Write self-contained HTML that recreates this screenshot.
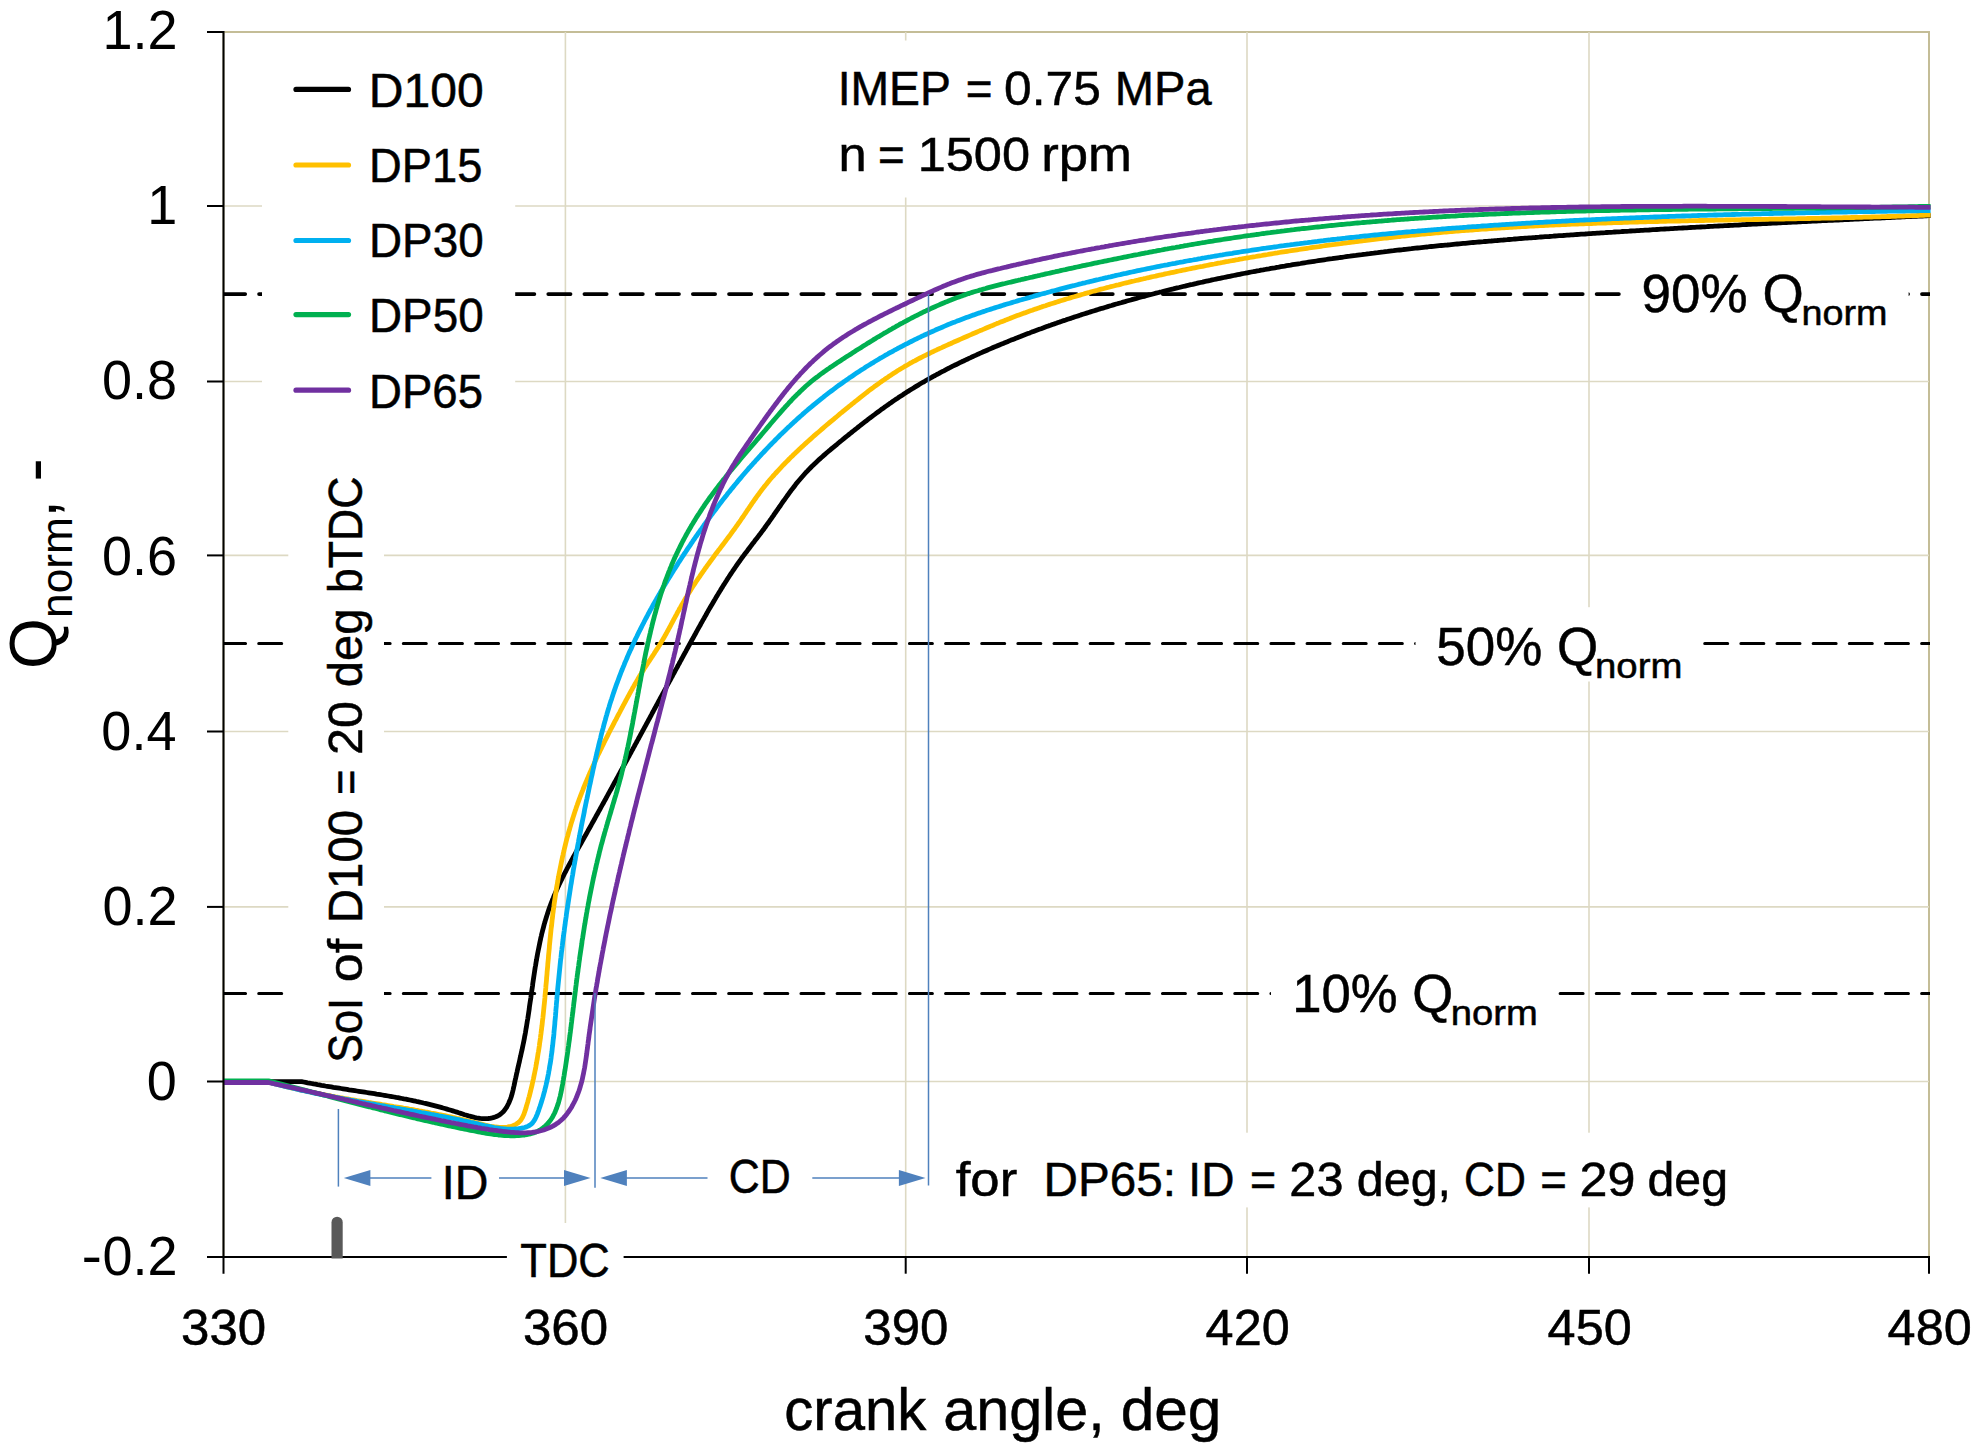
<!DOCTYPE html>
<html lang="en"><head><meta charset="utf-8"><title>Normalized heat release vs crank angle</title>
<style>html,body{margin:0;padding:0;background:#fff}svg{display:block}</style></head>
<body>
<svg width="1986" height="1449" viewBox="0 0 1986 1449" font-family="'Liberation Sans', Arial, sans-serif" fill="#000">
<rect x="0" y="0" width="1986" height="1449" fill="#fff"/>
<rect x="223.5" y="32.0" width="1705.5" height="1225.0" fill="none" stroke="#c4bd97" stroke-width="2"/>
<g stroke="#ddd9c3" stroke-width="1.6" fill="none">
<line x1="223.5" y1="206.0" x2="1929.0" y2="206.0"/>
<line x1="223.5" y1="381.5" x2="1929.0" y2="381.5"/>
<line x1="223.5" y1="555.4" x2="1929.0" y2="555.4"/>
<line x1="223.5" y1="731.5" x2="1929.0" y2="731.5"/>
<line x1="223.5" y1="906.9" x2="1929.0" y2="906.9"/>
<line x1="223.5" y1="1081.5" x2="1929.0" y2="1081.5"/>
<line x1="565.4" y1="32.0" x2="565.4" y2="1257.0"/>
<line x1="905.7" y1="32.0" x2="905.7" y2="1257.0"/>
<line x1="1247.0" y1="32.0" x2="1247.0" y2="1257.0"/>
<line x1="1589.0" y1="32.0" x2="1589.0" y2="1257.0"/>
</g>
<clipPath id="pc"><rect x="223.0" y="32.0" width="1707.0" height="1225.0"/></clipPath>
<g stroke="#000" stroke-linecap="round" fill="none" clip-path="url(#pc)">
<line x1="222.9" y1="294.05" x2="1960" y2="294.05" stroke-width="3.7" stroke-dasharray="22.3 13.85"/>
<line x1="222.55" y1="643.45" x2="1960" y2="643.45" stroke-width="3.0" stroke-dasharray="23 13.15"/>
<line x1="222.55" y1="993.45" x2="1960" y2="993.45" stroke-width="3.0" stroke-dasharray="23 13.15"/>
</g>
<g fill="none" stroke-width="4.8" stroke-linejoin="round" stroke-linecap="butt">
<path stroke="#000000" d="M223.5,1081.8 L301.6,1081.6 L303.6,1082.0 L305.6,1082.4 L307.6,1082.8 L309.5,1083.1 L311.5,1083.5 L313.5,1083.9 L315.5,1084.2 L317.5,1084.6 L319.4,1084.9 L321.4,1085.3 L323.4,1085.6 L325.4,1086.0 L327.3,1086.3 L329.3,1086.6 L331.3,1086.9 L333.3,1087.3 L335.2,1087.6 L337.2,1087.9 L339.2,1088.2 L341.1,1088.5 L343.1,1088.8 L345.1,1089.1 L347.0,1089.4 L349.0,1089.8 L351.0,1090.1 L352.9,1090.4 L354.9,1090.7 L356.9,1091.0 L358.8,1091.3 L360.8,1091.6 L362.8,1091.9 L364.7,1092.2 L366.7,1092.5 L368.7,1092.8 L370.6,1093.1 L372.6,1093.4 L374.5,1093.7 L376.5,1094.1 L378.5,1094.4 L380.4,1094.7 L382.4,1095.0 L384.3,1095.3 L386.3,1095.7 L388.3,1096.0 L390.2,1096.3 L392.2,1096.7 L394.1,1097.0 L396.1,1097.4 L398.0,1097.7 L400.0,1098.1 L402.0,1098.5 L403.9,1098.9 L405.9,1099.2 L407.8,1099.6 L409.8,1100.0 L411.7,1100.4 L413.7,1100.8 L415.7,1101.2 L417.6,1101.7 L419.6,1102.1 L421.5,1102.5 L423.5,1103.0 L425.4,1103.4 L427.4,1103.9 L429.4,1104.4 L431.3,1104.9 L433.3,1105.4 L435.2,1105.9 L437.2,1106.4 L439.1,1106.9 L441.1,1107.4 L443.1,1108.0 L445.0,1108.5 L447.0,1109.1 L448.9,1109.7 L450.9,1110.3 L452.8,1110.9 L454.8,1111.5 L456.8,1112.1 L458.7,1112.8 L460.7,1113.4 L462.6,1114.0 L464.6,1114.7 L466.6,1115.3 L468.5,1115.9 L470.5,1116.4 L472.4,1116.9 L474.4,1117.4 L476.4,1117.8 L478.3,1118.1 L480.3,1118.4 L482.3,1118.6 L484.3,1118.7 L486.2,1118.6 L488.2,1118.5 L490.2,1118.3 L492.1,1117.9 L494.0,1117.4 L495.8,1116.8 L497.6,1116.0 L499.2,1115.1 L500.7,1114.0 L502.1,1112.8 L503.5,1111.5 L504.7,1110.0 L505.8,1108.4 L506.9,1106.8 L507.8,1105.0 L508.7,1103.2 L509.5,1101.3 L510.3,1099.4 L511.0,1097.5 L511.6,1095.5 L512.2,1093.5 L512.7,1091.5 L513.2,1089.5 L513.6,1087.5 L514.1,1085.5 L514.5,1083.5 L514.9,1081.6 L515.3,1079.6 L515.8,1077.6 L516.2,1075.7 L516.6,1073.7 L517.1,1071.8 L517.5,1069.8 L517.9,1067.9 L518.4,1065.9 L518.8,1064.0 L519.3,1062.1 L519.7,1060.1 L520.1,1058.2 L520.6,1056.2 L521.0,1054.3 L521.4,1052.4 L521.9,1050.4 L522.3,1048.5 L522.7,1046.6 L523.1,1044.6 L523.5,1042.7 L523.9,1040.7 L524.3,1038.8 L524.6,1036.8 L525.0,1034.9 L525.4,1032.9 L525.7,1031.0 L526.0,1029.0 L526.4,1027.0 L526.7,1025.0 L527.0,1023.1 L527.3,1021.1 L527.7,1019.1 L528.0,1017.1 L528.3,1015.2 L528.6,1013.2 L528.9,1011.2 L529.2,1009.2 L529.4,1007.2 L529.7,1005.2 L530.0,1003.2 L530.3,1001.2 L530.6,999.3 L530.9,997.3 L531.1,995.3 L531.4,993.3 L531.7,991.3 L532.0,989.3 L532.3,987.3 L532.6,985.3 L532.8,983.3 L533.1,981.3 L533.4,979.3 L533.7,977.3 L534.0,975.4 L534.3,973.4 L534.6,971.4 L534.9,969.4 L535.2,967.4 L535.6,965.4 L535.9,963.4 L536.2,961.5 L536.6,959.5 L536.9,957.5 L537.3,955.5 L537.6,953.6 L538.0,951.6 L538.4,949.6 L538.8,947.7 L539.2,945.7 L539.6,943.8 L540.0,941.8 L540.4,939.9 L540.8,937.9 L541.3,936.0 L541.7,934.0 L542.2,932.1 L542.7,930.2 L543.2,928.3 L543.7,926.3 L544.2,924.4 L544.8,922.5 L545.3,920.6 L545.9,918.7 L546.5,916.8 L547.1,914.9 L547.7,913.0 L548.3,911.1 L548.9,909.3 L549.6,907.4 L550.3,905.5 L551.0,903.7 L551.7,901.8 L552.4,900.0 L553.2,898.1 L553.9,896.3 L554.7,894.5 L555.5,892.6 L556.3,890.8 L557.1,889.0 L557.9,887.2 L558.8,885.4 L559.6,883.6 L560.5,881.8 L561.4,880.0 L562.2,878.2 L563.1,876.4 L564.0,874.6 L564.9,872.8 L565.9,871.0 L566.8,869.2 L567.7,867.5 L568.7,865.7 L569.6,863.9 L570.6,862.2 L571.5,860.4 L572.5,858.6 L573.4,856.9 L574.4,855.1 L575.4,853.3 L576.4,851.6 L577.3,849.8 L578.3,848.1 L579.3,846.3 L580.3,844.6 L581.3,842.8 L582.2,841.1 L583.2,839.3 L584.2,837.5 L585.2,835.8 L586.2,834.0 L587.2,832.3 L588.1,830.5 L589.1,828.8 L590.1,827.0 L591.1,825.3 L592.0,823.5 L593.0,821.8 L594.0,820.0 L595.0,818.3 L595.9,816.5 L596.9,814.7 L597.9,813.0 L598.8,811.2 L599.8,809.5 L600.8,807.7 L601.7,806.0 L602.7,804.2 L603.7,802.5 L604.6,800.7 L605.6,799.0 L606.6,797.2 L607.5,795.5 L608.5,793.7 L609.4,792.0 L610.4,790.2 L611.4,788.5 L612.3,786.7 L613.3,784.9 L614.2,783.2 L615.2,781.4 L616.2,779.7 L617.1,777.9 L618.1,776.2 L619.0,774.4 L620.0,772.7 L620.9,770.9 L621.9,769.2 L622.8,767.4 L623.8,765.7 L624.8,763.9 L625.7,762.2 L626.7,760.4 L627.6,758.6 L628.6,756.9 L629.5,755.1 L630.5,753.4 L631.4,751.6 L632.4,749.9 L633.3,748.1 L634.3,746.4 L635.2,744.6 L636.2,742.9 L637.1,741.1 L638.1,739.4 L639.0,737.6 L640.0,735.8 L640.9,734.1 L641.9,732.3 L642.8,730.6 L643.8,728.8 L644.7,727.1 L645.7,725.3 L646.6,723.6 L647.6,721.8 L648.5,720.1 L649.5,718.3 L650.4,716.6 L651.4,714.8 L652.3,713.0 L653.3,711.3 L654.2,709.5 L655.2,707.8 L656.1,706.0 L657.1,704.3 L658.0,702.5 L659.0,700.8 L659.9,699.0 L660.9,697.2 L661.8,695.5 L662.8,693.7 L663.7,692.0 L664.7,690.2 L665.6,688.5 L666.6,686.7 L667.5,685.0 L668.5,683.2 L669.4,681.4 L670.4,679.7 L671.3,677.9 L672.3,676.2 L673.2,674.4 L674.2,672.7 L675.1,670.9 L676.1,669.1 L677.1,667.4 L678.0,665.6 L679.0,663.9 L679.9,662.1 L680.9,660.4 L681.8,658.6 L682.8,656.8 L683.7,655.1 L684.7,653.3 L685.7,651.6 L686.6,649.8 L687.6,648.0 L688.5,646.3 L689.5,644.5 L690.5,642.8 L691.4,641.0 L692.4,639.2 L693.4,637.5 L694.3,635.7 L695.3,634.0 L696.3,632.2 L697.2,630.5 L698.2,628.7 L699.2,626.9 L700.2,625.2 L701.1,623.4 L702.1,621.7 L703.1,619.9 L704.1,618.2 L705.1,616.4 L706.1,614.7 L707.0,612.9 L708.0,611.2 L709.0,609.4 L710.0,607.7 L711.0,606.0 L712.1,604.2 L713.1,602.5 L714.1,600.8 L715.1,599.1 L716.1,597.3 L717.2,595.6 L718.2,593.9 L719.2,592.2 L720.3,590.5 L721.3,588.8 L722.4,587.1 L723.4,585.4 L724.5,583.7 L725.6,582.0 L726.7,580.3 L727.7,578.6 L728.8,577.0 L729.9,575.3 L731.0,573.6 L732.1,572.0 L733.2,570.3 L734.4,568.6 L735.5,567.0 L736.6,565.4 L737.8,563.7 L738.9,562.1 L740.1,560.5 L741.2,558.9 L742.4,557.2 L743.6,555.6 L744.8,554.0 L746.0,552.4 L747.2,550.9 L748.4,549.3 L749.6,547.7 L750.8,546.1 L752.0,544.5 L753.2,542.9 L754.4,541.4 L755.6,539.8 L756.9,538.2 L758.1,536.6 L759.3,535.0 L760.5,533.5 L761.7,531.9 L762.9,530.3 L764.1,528.7 L765.3,527.0 L766.4,525.4 L767.6,523.8 L768.8,522.2 L769.9,520.5 L771.1,518.9 L772.2,517.2 L773.4,515.6 L774.5,513.9 L775.7,512.3 L776.8,510.6 L778.0,509.0 L779.1,507.3 L780.3,505.7 L781.4,504.0 L782.5,502.4 L783.7,500.7 L784.9,499.1 L786.0,497.5 L787.2,495.8 L788.4,494.2 L789.5,492.6 L790.7,491.0 L791.9,489.4 L793.2,487.8 L794.4,486.2 L795.6,484.6 L796.8,483.1 L798.1,481.5 L799.4,480.0 L800.7,478.5 L802.0,477.0 L803.3,475.5 L804.6,474.0 L805.9,472.5 L807.3,471.1 L808.7,469.6 L810.1,468.2 L811.5,466.8 L812.9,465.4 L814.4,464.0 L815.8,462.7 L817.3,461.3 L818.7,459.9 L820.2,458.6 L821.7,457.3 L823.2,455.9 L824.7,454.6 L826.2,453.3 L827.7,452.0 L829.3,450.7 L830.8,449.4 L832.3,448.1 L833.9,446.8 L835.4,445.6 L837.0,444.3 L838.5,443.0 L840.1,441.7 L841.6,440.5 L843.2,439.2 L844.7,437.9 L846.3,436.6 L847.9,435.4 L849.4,434.1 L851.0,432.9 L852.5,431.6 L854.1,430.4 L855.7,429.1 L857.3,427.9 L858.8,426.6 L860.4,425.4 L862.0,424.1 L863.6,422.9 L865.2,421.7 L866.8,420.5 L868.4,419.2 L869.9,418.0 L871.5,416.8 L873.1,415.6 L874.8,414.4 L876.4,413.2 L878.0,412.0 L879.6,410.8 L881.2,409.6 L882.8,408.5 L884.4,407.3 L886.1,406.1 L887.7,405.0 L889.3,403.8 L891.0,402.7 L892.6,401.6 L894.3,400.4 L895.9,399.3 L897.6,398.2 L899.2,397.1 L900.9,396.0 L902.6,394.9 L904.2,393.8 L905.9,392.7 L907.6,391.6 L909.3,390.6 L911.0,389.5 L912.7,388.5 L914.4,387.4 L916.1,386.4 L917.8,385.4 L919.5,384.3 L921.2,383.3 L922.9,382.3 L924.7,381.3 L926.4,380.3 L928.1,379.3 L929.8,378.4 L931.6,377.4 L933.3,376.4 L935.1,375.5 L936.8,374.5 L938.6,373.6 L940.3,372.6 L942.1,371.7 L943.9,370.8 L945.6,369.9 L947.4,368.9 L949.2,368.0 L950.9,367.1 L952.7,366.2 L954.5,365.3 L956.3,364.5 L958.1,363.6 L959.9,362.7 L961.7,361.8 L963.5,361.0 L965.3,360.1 L967.1,359.3 L968.9,358.4 L970.7,357.6 L972.5,356.7 L974.3,355.9 L976.1,355.1 L978.0,354.2 L979.8,353.4 L981.6,352.6 L983.4,351.8 L985.3,351.0 L987.1,350.2 L988.9,349.4 L990.8,348.6 L992.6,347.8 L994.4,347.0 L996.3,346.3 L998.1,345.5 L1000.0,344.7 L1001.8,343.9 L1003.7,343.2 L1005.5,342.4 L1007.4,341.7 L1009.2,340.9 L1011.1,340.1 L1013.0,339.4 L1014.8,338.7 L1016.7,337.9 L1018.6,337.2 L1020.4,336.5 L1022.3,335.7 L1024.2,335.0 L1026.0,334.3 L1027.9,333.6 L1029.8,332.9 L1031.7,332.1 L1033.5,331.4 L1035.4,330.7 L1037.3,330.0 L1039.2,329.3 L1041.1,328.7 L1043.0,328.0 L1044.8,327.3 L1046.7,326.6 L1048.6,325.9 L1050.5,325.3 L1052.4,324.6 L1054.3,323.9 L1056.2,323.3 L1058.1,322.6 L1060.0,321.9 L1061.9,321.3 L1063.8,320.6 L1065.7,320.0 L1067.6,319.3 L1069.5,318.7 L1071.4,318.1 L1073.3,317.4 L1075.2,316.8 L1077.1,316.2 L1079.0,315.6 L1080.9,314.9 L1082.8,314.3 L1084.7,313.7 L1086.6,313.1 L1088.6,312.5 L1090.5,311.9 L1092.4,311.3 L1094.3,310.7 L1096.2,310.1 L1098.1,309.5 L1100.0,308.9 L1101.9,308.3 L1103.9,307.8 L1105.8,307.2 L1107.7,306.6 L1109.6,306.0 L1111.5,305.5 L1113.5,304.9 L1115.4,304.3 L1117.3,303.8 L1119.2,303.2 L1121.1,302.7 L1123.1,302.1 L1125.0,301.6 L1126.9,301.0 L1128.8,300.5 L1130.8,300.0 L1132.7,299.4 L1134.6,298.9 L1136.5,298.4 L1138.5,297.8 L1140.4,297.3 L1142.3,296.8 L1144.3,296.3 L1146.2,295.8 L1148.1,295.2 L1150.1,294.7 L1152.0,294.2 L1153.9,293.7 L1155.9,293.2 L1157.8,292.7 L1159.7,292.2 L1161.7,291.8 L1163.6,291.3 L1165.5,290.8 L1167.5,290.3 L1169.4,289.8 L1171.4,289.3 L1173.3,288.9 L1175.2,288.4 L1177.2,287.9 L1179.1,287.5 L1181.1,287.0 L1183.0,286.5 L1184.9,286.1 L1186.9,285.6 L1188.8,285.2 L1190.8,284.7 L1192.7,284.3 L1194.7,283.8 L1196.6,283.4 L1198.6,282.9 L1200.5,282.5 L1202.5,282.1 L1204.4,281.6 L1206.4,281.2 L1208.3,280.8 L1210.3,280.4 L1212.2,279.9 L1214.2,279.5 L1216.1,279.1 L1218.1,278.7 L1220.0,278.3 L1222.0,277.9 L1223.9,277.5 L1225.9,277.1 L1227.8,276.7 L1229.8,276.3 L1231.7,275.9 L1233.7,275.5 L1235.7,275.1 L1237.6,274.7 L1239.6,274.3 L1241.5,273.9 L1243.5,273.5 L1245.5,273.2 L1247.4,272.8 L1249.4,272.4 L1251.3,272.0 L1253.3,271.7 L1255.3,271.3 L1257.2,270.9 L1259.2,270.6 L1261.1,270.2 L1263.1,269.9 L1265.1,269.5 L1267.0,269.1 L1269.0,268.8 L1271.0,268.4 L1272.9,268.1 L1274.9,267.8 L1276.9,267.4 L1278.8,267.1 L1280.8,266.7 L1282.8,266.4 L1284.7,266.1 L1286.7,265.7 L1288.7,265.4 L1290.6,265.1 L1292.6,264.7 L1294.6,264.4 L1296.6,264.1 L1298.5,263.8 L1300.5,263.5 L1302.5,263.1 L1304.4,262.8 L1306.4,262.5 L1308.4,262.2 L1310.4,261.9 L1312.3,261.6 L1314.3,261.3 L1316.3,261.0 L1318.3,260.7 L1320.2,260.4 L1322.2,260.1 L1324.2,259.8 L1326.2,259.5 L1328.1,259.2 L1330.1,258.9 L1332.1,258.7 L1334.1,258.4 L1336.1,258.1 L1338.0,257.8 L1340.0,257.5 L1342.0,257.3 L1344.0,257.0 L1346.0,256.7 L1347.9,256.4 L1349.9,256.2 L1351.9,255.9 L1353.9,255.6 L1355.9,255.4 L1357.8,255.1 L1359.8,254.8 L1361.8,254.6 L1363.8,254.3 L1365.8,254.1 L1367.7,253.8 L1369.7,253.6 L1371.7,253.3 L1373.7,253.1 L1375.7,252.8 L1377.7,252.6 L1379.7,252.3 L1381.6,252.1 L1383.6,251.9 L1385.6,251.6 L1387.6,251.4 L1389.6,251.1 L1391.6,250.9 L1393.6,250.7 L1395.5,250.4 L1397.5,250.2 L1399.5,250.0 L1401.5,249.8 L1403.5,249.5 L1405.5,249.3 L1407.5,249.1 L1409.5,248.9 L1411.4,248.7 L1413.4,248.4 L1415.4,248.2 L1417.4,248.0 L1419.4,247.8 L1421.4,247.6 L1423.4,247.4 L1425.4,247.2 L1427.4,247.0 L1429.4,246.7 L1431.3,246.5 L1433.3,246.3 L1435.3,246.1 L1437.3,245.9 L1439.3,245.7 L1441.3,245.5 L1443.3,245.3 L1445.3,245.1 L1447.3,245.0 L1449.3,244.8 L1451.3,244.6 L1453.3,244.4 L1455.3,244.2 L1457.2,244.0 L1459.2,243.8 L1461.2,243.6 L1463.2,243.4 L1465.2,243.3 L1467.2,243.1 L1469.2,242.9 L1471.2,242.7 L1473.2,242.5 L1475.2,242.4 L1477.2,242.2 L1479.2,242.0 L1481.2,241.8 L1483.2,241.7 L1485.2,241.5 L1487.2,241.3 L1489.2,241.1 L1491.2,241.0 L1493.1,240.8 L1495.1,240.6 L1497.1,240.5 L1499.1,240.3 L1501.1,240.1 L1503.1,240.0 L1505.1,239.8 L1507.1,239.7 L1509.1,239.5 L1511.1,239.3 L1513.1,239.2 L1515.1,239.0 L1517.1,238.9 L1519.1,238.7 L1521.1,238.5 L1523.1,238.4 L1525.1,238.2 L1527.1,238.1 L1529.1,237.9 L1531.1,237.8 L1533.1,237.6 L1535.1,237.5 L1537.1,237.3 L1539.1,237.2 L1541.1,237.0 L1543.1,236.9 L1545.1,236.7 L1547.1,236.6 L1549.1,236.5 L1551.0,236.3 L1553.0,236.2 L1555.0,236.0 L1557.0,235.9 L1559.0,235.7 L1561.0,235.6 L1563.0,235.5 L1565.0,235.3 L1567.0,235.2 L1569.0,235.1 L1571.0,234.9 L1573.0,234.8 L1575.0,234.6 L1577.0,234.5 L1579.0,234.4 L1581.0,234.2 L1583.0,234.1 L1585.0,234.0 L1587.0,233.8 L1589.0,233.7 L1591.0,233.6 L1593.0,233.4 L1595.0,233.3 L1597.0,233.2 L1599.0,233.1 L1601.0,232.9 L1603.0,232.8 L1605.0,232.7 L1607.0,232.5 L1609.0,232.4 L1611.0,232.3 L1612.9,232.2 L1614.9,232.0 L1616.9,231.9 L1618.9,231.8 L1620.9,231.7 L1622.9,231.5 L1624.9,231.4 L1626.9,231.3 L1628.9,231.2 L1630.9,231.0 L1632.9,230.9 L1634.9,230.8 L1636.9,230.7 L1638.9,230.6 L1640.9,230.4 L1642.9,230.3 L1644.9,230.2 L1646.9,230.1 L1648.9,230.0 L1650.9,229.8 L1652.9,229.7 L1654.9,229.6 L1656.9,229.5 L1658.9,229.4 L1660.9,229.2 L1662.8,229.1 L1664.8,229.0 L1666.8,228.9 L1668.8,228.8 L1670.8,228.7 L1672.8,228.6 L1674.8,228.4 L1676.8,228.3 L1678.8,228.2 L1680.8,228.1 L1682.8,228.0 L1684.8,227.9 L1686.8,227.8 L1688.8,227.6 L1690.8,227.5 L1692.8,227.4 L1694.8,227.3 L1696.8,227.2 L1698.8,227.1 L1700.8,227.0 L1702.8,226.9 L1704.8,226.8 L1706.7,226.7 L1708.7,226.5 L1710.7,226.4 L1712.7,226.3 L1714.7,226.2 L1716.7,226.1 L1718.7,226.0 L1720.7,225.9 L1722.7,225.8 L1724.7,225.7 L1726.7,225.6 L1728.7,225.5 L1730.7,225.4 L1732.7,225.3 L1734.7,225.2 L1736.7,225.1 L1738.7,225.0 L1740.7,224.8 L1742.7,224.7 L1744.7,224.6 L1746.7,224.5 L1748.7,224.4 L1750.6,224.3 L1752.6,224.2 L1754.6,224.1 L1756.6,224.0 L1758.6,223.9 L1760.6,223.8 L1762.6,223.7 L1764.6,223.6 L1766.6,223.5 L1768.6,223.4 L1770.6,223.3 L1772.6,223.2 L1774.6,223.1 L1776.6,223.0 L1778.6,222.9 L1780.6,222.8 L1782.6,222.7 L1784.6,222.6 L1786.6,222.5 L1788.6,222.4 L1790.6,222.3 L1792.6,222.2 L1794.6,222.1 L1796.6,222.0 L1798.5,221.9 L1800.5,221.8 L1802.5,221.7 L1804.5,221.6 L1806.5,221.5 L1808.5,221.4 L1810.5,221.3 L1812.5,221.2 L1814.5,221.1 L1816.5,221.0 L1818.5,220.9 L1820.5,220.8 L1822.5,220.7 L1824.5,220.6 L1826.5,220.5 L1828.5,220.4 L1830.5,220.4 L1832.5,220.3 L1834.5,220.2 L1836.5,220.1 L1838.5,220.0 L1840.5,219.9 L1842.5,219.8 L1844.5,219.7 L1846.5,219.6 L1848.5,219.5 L1850.5,219.4 L1852.5,219.3 L1854.5,219.2 L1856.5,219.1 L1858.5,219.0 L1860.5,218.9 L1862.5,218.8 L1864.5,218.7 L1866.5,218.6 L1868.5,218.5 L1870.4,218.4 L1872.4,218.3 L1874.4,218.2 L1876.4,218.2 L1878.4,218.1 L1880.4,218.0 L1882.4,217.9 L1884.4,217.8 L1886.4,217.7 L1888.4,217.6 L1890.4,217.5 L1892.4,217.4 L1894.4,217.3 L1896.4,217.2 L1898.4,217.1 L1900.4,217.0 L1902.4,216.9 L1904.4,216.8 L1906.4,216.7 L1908.4,216.6 L1910.4,216.5 L1912.4,216.4 L1914.4,216.3 L1916.4,216.3 L1918.4,216.2 L1920.4,216.1 L1922.4,216.0 L1924.4,215.9 L1926.4,215.8 L1928.4,215.7 L1930.4,215.6 L1930.6,215.6"/>
<path stroke="#ffc000" d="M223.5,1082.0 L268.5,1082.0 L270.5,1082.5 L272.5,1083.1 L274.5,1083.6 L276.5,1084.1 L278.5,1084.7 L280.5,1085.2 L282.5,1085.7 L284.4,1086.2 L286.4,1086.6 L288.4,1087.1 L290.4,1087.6 L292.4,1088.1 L294.3,1088.5 L296.3,1089.0 L298.3,1089.4 L300.2,1089.8 L302.2,1090.3 L304.2,1090.7 L306.1,1091.1 L308.1,1091.5 L310.0,1091.9 L312.0,1092.3 L314.0,1092.7 L315.9,1093.1 L317.9,1093.5 L319.8,1093.9 L321.8,1094.3 L323.7,1094.6 L325.7,1095.0 L327.6,1095.4 L329.6,1095.7 L331.5,1096.1 L333.5,1096.4 L335.4,1096.8 L337.4,1097.1 L339.3,1097.5 L341.2,1097.8 L343.2,1098.2 L345.1,1098.5 L347.1,1098.8 L349.0,1099.2 L351.0,1099.5 L352.9,1099.8 L354.8,1100.1 L356.8,1100.5 L358.7,1100.8 L360.7,1101.1 L362.6,1101.4 L364.5,1101.7 L366.5,1102.0 L368.4,1102.4 L370.4,1102.7 L372.3,1103.0 L374.2,1103.3 L376.2,1103.6 L378.1,1103.9 L380.1,1104.2 L382.0,1104.6 L384.0,1104.9 L385.9,1105.2 L387.8,1105.5 L389.8,1105.8 L391.7,1106.1 L393.7,1106.5 L395.6,1106.8 L397.6,1107.1 L399.5,1107.4 L401.5,1107.7 L403.4,1108.1 L405.4,1108.4 L407.4,1108.7 L409.3,1109.1 L411.3,1109.4 L413.2,1109.7 L415.2,1110.1 L417.2,1110.4 L419.1,1110.8 L421.1,1111.1 L423.1,1111.5 L425.0,1111.9 L427.0,1112.2 L429.0,1112.6 L431.0,1113.0 L432.9,1113.3 L434.9,1113.7 L436.9,1114.1 L438.9,1114.5 L440.9,1114.9 L442.9,1115.3 L444.9,1115.7 L446.9,1116.1 L448.8,1116.5 L450.8,1116.9 L452.9,1117.4 L454.9,1117.8 L456.9,1118.3 L458.9,1118.7 L460.9,1119.2 L462.9,1119.6 L464.9,1120.1 L467.0,1120.6 L469.0,1121.0 L471.0,1121.5 L473.0,1122.0 L475.1,1122.5 L477.1,1123.1 L479.2,1123.6 L481.2,1124.1 L483.2,1124.6 L485.3,1125.1 L487.3,1125.5 L489.4,1126.0 L491.4,1126.4 L493.4,1126.7 L495.4,1127.0 L497.4,1127.2 L499.4,1127.4 L501.4,1127.4 L503.4,1127.4 L505.3,1127.3 L507.3,1127.1 L509.2,1126.7 L511.1,1126.3 L512.9,1125.7 L514.6,1125.0 L516.3,1124.1 L517.8,1123.1 L519.2,1121.9 L520.4,1120.6 L521.4,1119.1 L522.4,1117.5 L523.2,1115.8 L524.0,1114.0 L524.6,1112.1 L525.3,1110.2 L525.9,1108.3 L526.4,1106.3 L527.0,1104.4 L527.6,1102.4 L528.1,1100.5 L528.6,1098.5 L529.2,1096.6 L529.7,1094.6 L530.2,1092.7 L530.7,1090.7 L531.1,1088.8 L531.6,1086.8 L532.1,1084.9 L532.5,1082.9 L532.9,1081.0 L533.4,1079.0 L533.8,1077.0 L534.2,1075.1 L534.6,1073.1 L535.0,1071.1 L535.4,1069.2 L535.8,1067.2 L536.1,1065.2 L536.5,1063.3 L536.8,1061.3 L537.2,1059.3 L537.5,1057.4 L537.8,1055.4 L538.1,1053.4 L538.5,1051.4 L538.8,1049.5 L539.1,1047.5 L539.4,1045.5 L539.6,1043.5 L539.9,1041.6 L540.2,1039.6 L540.5,1037.6 L540.7,1035.6 L541.0,1033.6 L541.2,1031.7 L541.5,1029.7 L541.7,1027.7 L542.0,1025.7 L542.2,1023.7 L542.4,1021.7 L542.6,1019.8 L542.9,1017.8 L543.1,1015.8 L543.3,1013.8 L543.5,1011.8 L543.7,1009.8 L543.9,1007.8 L544.1,1005.8 L544.3,1003.9 L544.5,1001.9 L544.7,999.9 L544.9,997.9 L545.0,995.9 L545.2,993.9 L545.4,991.9 L545.6,989.9 L545.8,987.9 L545.9,985.9 L546.1,983.9 L546.3,982.0 L546.5,980.0 L546.6,978.0 L546.8,976.0 L547.0,974.0 L547.1,972.0 L547.3,970.0 L547.5,968.0 L547.7,966.0 L547.8,964.0 L548.0,962.0 L548.2,960.0 L548.4,958.0 L548.5,956.0 L548.7,954.0 L548.9,952.1 L549.1,950.1 L549.3,948.1 L549.4,946.1 L549.6,944.1 L549.8,942.1 L550.0,940.1 L550.2,938.1 L550.4,936.1 L550.6,934.1 L550.8,932.1 L551.0,930.1 L551.2,928.1 L551.5,926.2 L551.7,924.2 L551.9,922.2 L552.1,920.2 L552.4,918.2 L552.6,916.2 L552.8,914.2 L553.1,912.2 L553.3,910.2 L553.6,908.3 L553.9,906.3 L554.1,904.3 L554.4,902.3 L554.7,900.3 L555.0,898.3 L555.3,896.3 L555.6,894.4 L555.9,892.4 L556.2,890.4 L556.5,888.4 L556.8,886.4 L557.2,884.5 L557.5,882.5 L557.9,880.5 L558.2,878.5 L558.6,876.6 L558.9,874.6 L559.3,872.6 L559.7,870.7 L560.1,868.7 L560.5,866.7 L560.9,864.8 L561.3,862.8 L561.7,860.8 L562.1,858.9 L562.5,856.9 L563.0,855.0 L563.4,853.0 L563.9,851.1 L564.3,849.1 L564.8,847.2 L565.3,845.2 L565.7,843.3 L566.2,841.4 L566.7,839.4 L567.2,837.5 L567.8,835.6 L568.3,833.6 L568.8,831.7 L569.4,829.8 L569.9,827.9 L570.5,825.9 L571.0,824.0 L571.6,822.1 L572.2,820.2 L572.8,818.3 L573.4,816.4 L574.0,814.5 L574.6,812.6 L575.2,810.7 L575.9,808.8 L576.5,806.9 L577.2,805.0 L577.8,803.2 L578.5,801.3 L579.2,799.4 L579.9,797.5 L580.6,795.7 L581.3,793.8 L582.0,792.0 L582.8,790.1 L583.5,788.2 L584.2,786.4 L585.0,784.5 L585.7,782.7 L586.5,780.9 L587.3,779.0 L588.1,777.2 L588.9,775.3 L589.6,773.5 L590.4,771.7 L591.3,769.9 L592.1,768.0 L592.9,766.2 L593.7,764.4 L594.5,762.6 L595.4,760.8 L596.2,759.0 L597.1,757.1 L597.9,755.3 L598.8,753.5 L599.7,751.7 L600.5,749.9 L601.4,748.1 L602.3,746.3 L603.2,744.5 L604.0,742.7 L604.9,740.9 L605.8,739.2 L606.7,737.4 L607.6,735.6 L608.5,733.8 L609.4,732.0 L610.3,730.2 L611.3,728.4 L612.2,726.7 L613.1,724.9 L614.0,723.1 L614.9,721.3 L615.9,719.6 L616.8,717.8 L617.7,716.0 L618.7,714.2 L619.6,712.5 L620.5,710.7 L621.5,708.9 L622.4,707.2 L623.3,705.4 L624.3,703.6 L625.2,701.9 L626.1,700.1 L627.1,698.3 L628.0,696.6 L629.0,694.8 L629.9,693.1 L630.9,691.3 L631.9,689.6 L632.8,687.8 L633.8,686.1 L634.8,684.3 L635.8,682.6 L636.8,680.9 L637.8,679.2 L638.8,677.4 L639.8,675.7 L640.9,674.0 L641.9,672.3 L643.0,670.7 L644.0,669.0 L645.1,667.3 L646.2,665.6 L647.3,664.0 L648.4,662.3 L649.5,660.6 L650.6,659.0 L651.7,657.3 L652.8,655.6 L653.9,654.0 L654.9,652.3 L656.0,650.6 L657.1,648.9 L658.2,647.3 L659.2,645.6 L660.3,643.9 L661.3,642.2 L662.3,640.4 L663.3,638.7 L664.3,637.0 L665.3,635.2 L666.3,633.5 L667.2,631.7 L668.2,630.0 L669.1,628.2 L670.1,626.5 L671.0,624.7 L672.0,622.9 L672.9,621.2 L673.8,619.4 L674.8,617.6 L675.7,615.9 L676.7,614.1 L677.6,612.3 L678.6,610.6 L679.5,608.8 L680.5,607.1 L681.5,605.3 L682.5,603.6 L683.5,601.9 L684.5,600.1 L685.5,598.4 L686.6,596.7 L687.6,595.0 L688.6,593.3 L689.7,591.6 L690.8,589.9 L691.8,588.2 L692.9,586.5 L694.0,584.9 L695.1,583.2 L696.2,581.5 L697.3,579.9 L698.5,578.2 L699.6,576.6 L700.7,574.9 L701.9,573.3 L703.0,571.6 L704.2,570.0 L705.3,568.3 L706.5,566.7 L707.6,565.1 L708.8,563.5 L710.0,561.8 L711.2,560.2 L712.4,558.6 L713.6,557.0 L714.7,555.4 L715.9,553.8 L717.1,552.2 L718.3,550.6 L719.6,549.0 L720.8,547.4 L722.0,545.8 L723.2,544.2 L724.4,542.6 L725.6,541.0 L726.8,539.4 L728.0,537.8 L729.2,536.2 L730.4,534.6 L731.5,533.0 L732.7,531.4 L733.9,529.8 L735.1,528.1 L736.2,526.5 L737.4,524.9 L738.5,523.2 L739.7,521.6 L740.8,520.0 L741.9,518.3 L743.1,516.7 L744.2,515.0 L745.3,513.4 L746.4,511.7 L747.5,510.0 L748.7,508.4 L749.8,506.7 L750.9,505.1 L752.0,503.4 L753.2,501.8 L754.3,500.2 L755.5,498.5 L756.6,496.9 L757.8,495.3 L759.0,493.7 L760.1,492.1 L761.3,490.5 L762.5,488.9 L763.8,487.3 L765.0,485.7 L766.3,484.2 L767.5,482.6 L768.8,481.1 L770.1,479.5 L771.4,478.0 L772.7,476.5 L774.1,475.0 L775.4,473.5 L776.8,472.0 L778.1,470.6 L779.5,469.1 L780.9,467.6 L782.2,466.2 L783.6,464.7 L785.0,463.3 L786.4,461.9 L787.8,460.5 L789.2,459.0 L790.6,457.6 L792.1,456.2 L793.5,454.8 L794.9,453.5 L796.4,452.1 L797.8,450.7 L799.3,449.3 L800.7,448.0 L802.2,446.6 L803.7,445.3 L805.1,443.9 L806.6,442.6 L808.1,441.2 L809.6,439.9 L811.1,438.6 L812.5,437.2 L814.0,435.9 L815.5,434.6 L817.0,433.3 L818.6,432.0 L820.1,430.7 L821.6,429.4 L823.1,428.1 L824.6,426.8 L826.1,425.5 L827.7,424.2 L829.2,422.9 L830.7,421.6 L832.3,420.3 L833.8,419.1 L835.3,417.8 L836.9,416.5 L838.4,415.2 L839.9,413.9 L841.5,412.7 L843.0,411.4 L844.6,410.1 L846.1,408.9 L847.7,407.6 L849.2,406.3 L850.8,405.1 L852.3,403.8 L853.9,402.6 L855.4,401.3 L857.0,400.1 L858.6,398.8 L860.1,397.6 L861.7,396.3 L863.3,395.1 L864.9,393.9 L866.5,392.7 L868.0,391.4 L869.6,390.2 L871.2,389.0 L872.8,387.8 L874.4,386.6 L876.0,385.5 L877.7,384.3 L879.3,383.1 L880.9,381.9 L882.5,380.8 L884.2,379.7 L885.8,378.5 L887.5,377.4 L889.1,376.3 L890.8,375.2 L892.5,374.1 L894.1,373.0 L895.8,371.9 L897.5,370.8 L899.2,369.8 L900.9,368.7 L902.6,367.7 L904.3,366.7 L906.1,365.7 L907.8,364.7 L909.5,363.7 L911.3,362.7 L913.0,361.7 L914.8,360.8 L916.6,359.8 L918.3,358.9 L920.1,358.0 L921.9,357.1 L923.7,356.2 L925.5,355.3 L927.3,354.4 L929.1,353.5 L930.9,352.6 L932.7,351.8 L934.5,350.9 L936.3,350.1 L938.1,349.2 L939.9,348.4 L941.8,347.6 L943.6,346.7 L945.4,345.9 L947.2,345.1 L949.0,344.3 L950.9,343.5 L952.7,342.6 L954.5,341.8 L956.4,341.0 L958.2,340.2 L960.0,339.4 L961.8,338.6 L963.7,337.8 L965.5,337.0 L967.3,336.2 L969.2,335.4 L971.0,334.6 L972.8,333.8 L974.7,333.0 L976.5,332.2 L978.4,331.4 L980.2,330.6 L982.0,329.9 L983.9,329.1 L985.7,328.3 L987.5,327.5 L989.4,326.7 L991.2,325.9 L993.1,325.2 L994.9,324.4 L996.8,323.6 L998.6,322.9 L1000.5,322.1 L1002.3,321.4 L1004.2,320.7 L1006.0,319.9 L1007.9,319.2 L1009.8,318.5 L1011.6,317.7 L1013.5,317.0 L1015.4,316.3 L1017.2,315.6 L1019.1,314.9 L1021.0,314.2 L1022.9,313.5 L1024.7,312.9 L1026.6,312.2 L1028.5,311.5 L1030.4,310.8 L1032.3,310.2 L1034.1,309.5 L1036.0,308.9 L1037.9,308.2 L1039.8,307.6 L1041.7,306.9 L1043.6,306.3 L1045.5,305.7 L1047.4,305.0 L1049.3,304.4 L1051.2,303.8 L1053.1,303.2 L1055.0,302.6 L1056.9,302.0 L1058.8,301.4 L1060.7,300.8 L1062.6,300.2 L1064.5,299.6 L1066.4,299.0 L1068.4,298.5 L1070.3,297.9 L1072.2,297.3 L1074.1,296.8 L1076.0,296.2 L1077.9,295.6 L1079.9,295.1 L1081.8,294.5 L1083.7,294.0 L1085.6,293.4 L1087.6,292.9 L1089.5,292.4 L1091.4,291.8 L1093.3,291.3 L1095.3,290.8 L1097.2,290.3 L1099.1,289.7 L1101.1,289.2 L1103.0,288.7 L1104.9,288.2 L1106.9,287.7 L1108.8,287.2 L1110.8,286.7 L1112.7,286.2 L1114.6,285.7 L1116.6,285.2 L1118.5,284.8 L1120.5,284.3 L1122.4,283.8 L1124.3,283.3 L1126.3,282.8 L1128.2,282.4 L1130.2,281.9 L1132.1,281.4 L1134.1,281.0 L1136.0,280.5 L1138.0,280.1 L1139.9,279.6 L1141.9,279.2 L1143.8,278.7 L1145.8,278.3 L1147.7,277.8 L1149.7,277.4 L1151.6,276.9 L1153.6,276.5 L1155.6,276.1 L1157.5,275.6 L1159.5,275.2 L1161.4,274.8 L1163.4,274.4 L1165.3,273.9 L1167.3,273.5 L1169.3,273.1 L1171.2,272.7 L1173.2,272.3 L1175.1,271.9 L1177.1,271.4 L1179.1,271.0 L1181.0,270.6 L1183.0,270.2 L1184.9,269.8 L1186.9,269.4 L1188.9,269.0 L1190.8,268.6 L1192.8,268.2 L1194.7,267.8 L1196.7,267.4 L1198.7,267.0 L1200.6,266.6 L1202.6,266.3 L1204.6,265.9 L1206.5,265.5 L1208.5,265.1 L1210.5,264.7 L1212.4,264.3 L1214.4,264.0 L1216.4,263.6 L1218.3,263.2 L1220.3,262.9 L1222.3,262.5 L1224.2,262.1 L1226.2,261.7 L1228.2,261.4 L1230.1,261.0 L1232.1,260.7 L1234.1,260.3 L1236.0,259.9 L1238.0,259.6 L1240.0,259.2 L1241.9,258.9 L1243.9,258.5 L1245.9,258.2 L1247.9,257.8 L1249.8,257.5 L1251.8,257.2 L1253.8,256.8 L1255.7,256.5 L1257.7,256.1 L1259.7,255.8 L1261.7,255.5 L1263.6,255.1 L1265.6,254.8 L1267.6,254.5 L1269.5,254.1 L1271.5,253.8 L1273.5,253.5 L1275.5,253.2 L1277.4,252.9 L1279.4,252.5 L1281.4,252.2 L1283.4,251.9 L1285.3,251.6 L1287.3,251.3 L1289.3,251.0 L1291.3,250.7 L1293.2,250.4 L1295.2,250.1 L1297.2,249.8 L1299.2,249.5 L1301.2,249.2 L1303.1,248.9 L1305.1,248.6 L1307.1,248.3 L1309.1,248.0 L1311.0,247.7 L1313.0,247.4 L1315.0,247.1 L1317.0,246.8 L1319.0,246.6 L1320.9,246.3 L1322.9,246.0 L1324.9,245.7 L1326.9,245.4 L1328.9,245.2 L1330.8,244.9 L1332.8,244.6 L1334.8,244.4 L1336.8,244.1 L1338.8,243.8 L1340.7,243.6 L1342.7,243.3 L1344.7,243.0 L1346.7,242.8 L1348.7,242.5 L1350.7,242.3 L1352.6,242.0 L1354.6,241.8 L1356.6,241.5 L1358.6,241.3 L1360.6,241.0 L1362.6,240.8 L1364.5,240.5 L1366.5,240.3 L1368.5,240.1 L1370.5,239.8 L1372.5,239.6 L1374.5,239.3 L1376.5,239.1 L1378.4,238.9 L1380.4,238.7 L1382.4,238.4 L1384.4,238.2 L1386.4,238.0 L1388.4,237.8 L1390.4,237.5 L1392.3,237.3 L1394.3,237.1 L1396.3,236.9 L1398.3,236.7 L1400.3,236.5 L1402.3,236.2 L1404.3,236.0 L1406.3,235.8 L1408.2,235.6 L1410.2,235.4 L1412.2,235.2 L1414.2,235.0 L1416.2,234.8 L1418.2,234.6 L1420.2,234.4 L1422.2,234.2 L1424.2,234.0 L1426.1,233.9 L1428.1,233.7 L1430.1,233.5 L1432.1,233.3 L1434.1,233.1 L1436.1,232.9 L1438.1,232.8 L1440.1,232.6 L1442.1,232.4 L1444.1,232.2 L1446.1,232.1 L1448.0,231.9 L1450.0,231.7 L1452.0,231.5 L1454.0,231.4 L1456.0,231.2 L1458.0,231.1 L1460.0,230.9 L1462.0,230.7 L1464.0,230.6 L1466.0,230.4 L1468.0,230.3 L1470.0,230.1 L1472.0,230.0 L1473.9,229.8 L1475.9,229.7 L1477.9,229.5 L1479.9,229.4 L1481.9,229.2 L1483.9,229.1 L1485.9,229.0 L1487.9,228.8 L1489.9,228.7 L1491.9,228.5 L1493.9,228.4 L1495.9,228.3 L1497.9,228.1 L1499.9,228.0 L1501.9,227.9 L1503.9,227.8 L1505.9,227.6 L1507.8,227.5 L1509.8,227.4 L1511.8,227.3 L1513.8,227.1 L1515.8,227.0 L1517.8,226.9 L1519.8,226.8 L1521.8,226.7 L1523.8,226.6 L1525.8,226.5 L1527.8,226.4 L1529.8,226.2 L1531.8,226.1 L1533.8,226.0 L1535.8,225.9 L1537.8,225.8 L1539.8,225.7 L1541.8,225.6 L1543.8,225.5 L1545.8,225.4 L1547.8,225.3 L1549.8,225.2 L1551.8,225.1 L1553.8,225.0 L1555.8,224.9 L1557.8,224.9 L1559.8,224.8 L1561.8,224.7 L1563.8,224.6 L1565.7,224.5 L1567.7,224.4 L1569.7,224.3 L1571.7,224.2 L1573.7,224.2 L1575.7,224.1 L1577.7,224.0 L1579.7,223.9 L1581.7,223.8 L1583.7,223.8 L1585.7,223.7 L1587.7,223.6 L1589.7,223.5 L1591.7,223.5 L1593.7,223.4 L1595.7,223.3 L1597.7,223.2 L1599.7,223.2 L1601.7,223.1 L1603.7,223.0 L1605.7,223.0 L1607.7,222.9 L1609.7,222.8 L1611.7,222.8 L1613.7,222.7 L1615.7,222.6 L1617.7,222.6 L1619.7,222.5 L1621.7,222.5 L1623.7,222.4 L1625.7,222.3 L1627.7,222.3 L1629.7,222.2 L1631.7,222.2 L1633.7,222.1 L1635.7,222.0 L1637.7,222.0 L1639.7,221.9 L1641.7,221.9 L1643.7,221.8 L1645.7,221.8 L1647.7,221.7 L1649.7,221.7 L1651.7,221.6 L1653.7,221.6 L1655.7,221.5 L1657.7,221.5 L1659.7,221.4 L1661.7,221.4 L1663.7,221.3 L1665.7,221.3 L1667.7,221.2 L1669.7,221.2 L1671.7,221.1 L1673.7,221.1 L1675.7,221.0 L1677.7,221.0 L1679.7,221.0 L1681.7,220.9 L1683.7,220.9 L1685.7,220.8 L1687.7,220.8 L1689.7,220.7 L1691.7,220.7 L1693.7,220.7 L1695.7,220.6 L1697.7,220.6 L1699.7,220.5 L1701.7,220.5 L1703.7,220.5 L1705.7,220.4 L1707.7,220.4 L1709.7,220.3 L1711.7,220.3 L1713.8,220.3 L1715.8,220.2 L1717.8,220.2 L1719.8,220.2 L1721.8,220.1 L1723.8,220.1 L1725.8,220.0 L1727.8,220.0 L1729.8,220.0 L1731.8,219.9 L1733.8,219.9 L1735.8,219.9 L1737.8,219.8 L1739.8,219.8 L1741.8,219.7 L1743.8,219.7 L1745.8,219.7 L1747.8,219.6 L1749.8,219.6 L1751.8,219.6 L1753.8,219.5 L1755.8,219.5 L1757.8,219.5 L1759.8,219.4 L1761.8,219.4 L1763.8,219.4 L1765.8,219.3 L1767.8,219.3 L1769.8,219.2 L1771.8,219.2 L1773.8,219.2 L1775.8,219.1 L1777.8,219.1 L1779.8,219.1 L1781.8,219.0 L1783.8,219.0 L1785.8,218.9 L1787.8,218.9 L1789.8,218.9 L1791.8,218.8 L1793.8,218.8 L1795.8,218.8 L1797.8,218.7 L1799.8,218.7 L1801.8,218.6 L1803.8,218.6 L1805.8,218.6 L1807.8,218.5 L1809.8,218.5 L1811.8,218.4 L1813.8,218.4 L1815.8,218.4 L1817.8,218.3 L1819.8,218.3 L1821.8,218.2 L1823.8,218.2 L1825.8,218.1 L1827.8,218.1 L1829.8,218.1 L1831.8,218.0 L1833.8,218.0 L1835.8,217.9 L1837.8,217.9 L1839.8,217.8 L1841.8,217.8 L1843.8,217.7 L1845.8,217.7 L1847.8,217.6 L1849.8,217.6 L1851.8,217.5 L1853.8,217.5 L1855.8,217.4 L1857.8,217.4 L1859.8,217.3 L1861.8,217.3 L1863.8,217.2 L1865.8,217.2 L1867.8,217.1 L1869.8,217.1 L1871.8,217.0 L1873.8,216.9 L1875.8,216.9 L1877.8,216.8 L1879.8,216.8 L1881.8,216.7 L1883.8,216.6 L1885.8,216.6 L1887.8,216.5 L1889.8,216.5 L1891.8,216.4 L1893.8,216.3 L1895.8,216.3 L1897.7,216.2 L1899.7,216.1 L1901.7,216.1 L1903.7,216.0 L1905.7,215.9 L1907.7,215.9 L1909.7,215.8 L1911.7,215.7 L1913.7,215.6 L1915.7,215.6 L1917.7,215.5 L1919.7,215.4 L1921.7,215.3 L1923.7,215.3 L1925.7,215.2 L1927.7,215.1 L1929.7,215.0 L1930.6,215.0"/>
<path stroke="#00b0f0" d="M223.5,1082.0 L268.5,1082.0 L270.5,1082.5 L272.4,1083.1 L274.4,1083.6 L276.3,1084.1 L278.3,1084.6 L280.2,1085.1 L282.2,1085.6 L284.1,1086.1 L286.1,1086.6 L288.0,1087.1 L290.0,1087.5 L291.9,1088.0 L293.9,1088.5 L295.8,1088.9 L297.8,1089.4 L299.7,1089.8 L301.7,1090.3 L303.6,1090.7 L305.6,1091.1 L307.6,1091.6 L309.5,1092.0 L311.5,1092.4 L313.4,1092.8 L315.4,1093.3 L317.3,1093.7 L319.3,1094.1 L321.2,1094.5 L323.2,1094.9 L325.2,1095.3 L327.1,1095.6 L329.1,1096.0 L331.0,1096.4 L333.0,1096.8 L334.9,1097.2 L336.9,1097.5 L338.9,1097.9 L340.8,1098.3 L342.8,1098.7 L344.7,1099.0 L346.7,1099.4 L348.7,1099.7 L350.6,1100.1 L352.6,1100.4 L354.5,1100.8 L356.5,1101.1 L358.5,1101.5 L360.4,1101.8 L362.4,1102.2 L364.3,1102.5 L366.3,1102.9 L368.3,1103.2 L370.2,1103.6 L372.2,1103.9 L374.1,1104.2 L376.1,1104.6 L378.1,1104.9 L380.0,1105.3 L382.0,1105.6 L384.0,1105.9 L385.9,1106.3 L387.9,1106.6 L389.8,1107.0 L391.8,1107.3 L393.8,1107.6 L395.7,1108.0 L397.7,1108.3 L399.7,1108.7 L401.6,1109.0 L403.6,1109.3 L405.6,1109.7 L407.5,1110.0 L409.5,1110.4 L411.5,1110.7 L413.4,1111.1 L415.4,1111.4 L417.4,1111.8 L419.3,1112.1 L421.3,1112.5 L423.3,1112.8 L425.2,1113.2 L427.2,1113.5 L429.2,1113.9 L431.1,1114.3 L433.1,1114.6 L435.1,1115.0 L437.0,1115.4 L439.0,1115.8 L441.0,1116.1 L443.0,1116.5 L444.9,1116.9 L446.9,1117.3 L448.9,1117.7 L450.8,1118.1 L452.8,1118.5 L454.8,1118.9 L456.8,1119.3 L458.7,1119.7 L460.7,1120.1 L462.7,1120.6 L464.6,1121.0 L466.6,1121.4 L468.6,1121.8 L470.6,1122.3 L472.5,1122.7 L474.5,1123.2 L476.5,1123.6 L478.5,1124.1 L480.4,1124.5 L482.4,1125.0 L484.4,1125.5 L486.4,1125.9 L488.3,1126.3 L490.3,1126.7 L492.3,1127.1 L494.3,1127.5 L496.3,1127.8 L498.3,1128.1 L500.3,1128.4 L502.3,1128.6 L504.3,1128.8 L506.3,1129.0 L508.3,1129.1 L510.3,1129.1 L512.4,1129.1 L514.4,1129.0 L516.4,1128.8 L518.5,1128.6 L520.5,1128.3 L522.6,1128.0 L524.5,1127.5 L526.5,1126.9 L528.2,1126.1 L529.9,1125.1 L531.4,1124.0 L532.7,1122.7 L533.8,1121.2 L534.8,1119.6 L535.7,1117.8 L536.5,1116.0 L537.3,1114.1 L538.0,1112.2 L538.7,1110.3 L539.3,1108.4 L540.0,1106.5 L540.6,1104.6 L541.2,1102.7 L541.8,1100.8 L542.4,1098.9 L543.0,1096.9 L543.5,1095.0 L544.0,1093.1 L544.6,1091.1 L545.0,1089.2 L545.5,1087.3 L546.0,1085.3 L546.4,1083.4 L546.9,1081.4 L547.3,1079.5 L547.7,1077.5 L548.1,1075.6 L548.5,1073.6 L548.8,1071.6 L549.2,1069.7 L549.5,1067.7 L549.8,1065.7 L550.2,1063.8 L550.5,1061.8 L550.8,1059.8 L551.1,1057.8 L551.3,1055.8 L551.6,1053.9 L551.9,1051.9 L552.1,1049.9 L552.3,1047.9 L552.6,1045.9 L552.8,1043.9 L553.0,1041.9 L553.2,1039.9 L553.5,1037.9 L553.7,1035.9 L553.9,1033.9 L554.0,1032.0 L554.2,1030.0 L554.4,1028.0 L554.6,1026.0 L554.8,1024.0 L554.9,1022.0 L555.1,1019.9 L555.3,1017.9 L555.5,1015.9 L555.6,1013.9 L555.8,1011.9 L555.9,1009.9 L556.1,1007.9 L556.3,1005.9 L556.4,1003.9 L556.6,1001.9 L556.8,999.9 L556.9,997.9 L557.1,995.9 L557.3,993.9 L557.5,991.9 L557.6,989.9 L557.8,987.9 L558.0,985.9 L558.2,983.9 L558.4,981.9 L558.6,980.0 L558.8,978.0 L559.0,976.0 L559.2,974.0 L559.4,972.0 L559.6,970.0 L559.8,968.0 L560.0,966.0 L560.2,964.0 L560.4,962.0 L560.6,960.0 L560.9,958.1 L561.1,956.1 L561.3,954.1 L561.5,952.1 L561.8,950.1 L562.0,948.1 L562.3,946.1 L562.5,944.2 L562.7,942.2 L563.0,940.2 L563.2,938.2 L563.5,936.2 L563.7,934.3 L564.0,932.3 L564.3,930.3 L564.5,928.3 L564.8,926.3 L565.1,924.4 L565.3,922.4 L565.6,920.4 L565.9,918.4 L566.2,916.5 L566.4,914.5 L566.7,912.5 L567.0,910.5 L567.3,908.6 L567.6,906.6 L567.9,904.6 L568.2,902.7 L568.5,900.7 L568.8,898.7 L569.1,896.7 L569.4,894.8 L569.7,892.8 L570.0,890.8 L570.3,888.9 L570.6,886.9 L570.9,884.9 L571.3,883.0 L571.6,881.0 L571.9,879.0 L572.2,877.1 L572.6,875.1 L572.9,873.1 L573.2,871.2 L573.5,869.2 L573.9,867.2 L574.2,865.3 L574.6,863.3 L574.9,861.3 L575.3,859.4 L575.6,857.4 L576.0,855.4 L576.3,853.5 L576.7,851.5 L577.0,849.5 L577.4,847.6 L577.7,845.6 L578.1,843.6 L578.5,841.7 L578.8,839.7 L579.2,837.8 L579.6,835.8 L579.9,833.8 L580.3,831.9 L580.7,829.9 L581.1,828.0 L581.4,826.0 L581.8,824.0 L582.2,822.1 L582.6,820.1 L583.0,818.1 L583.4,816.2 L583.8,814.2 L584.2,812.3 L584.5,810.3 L584.9,808.3 L585.3,806.4 L585.7,804.4 L586.1,802.5 L586.5,800.5 L587.0,798.5 L587.4,796.6 L587.8,794.6 L588.2,792.7 L588.6,790.7 L589.0,788.7 L589.4,786.8 L589.8,784.8 L590.3,782.8 L590.7,780.9 L591.1,778.9 L591.5,777.0 L592.0,775.0 L592.4,773.0 L592.8,771.1 L593.2,769.1 L593.7,767.2 L594.1,765.2 L594.5,763.2 L595.0,761.3 L595.4,759.3 L595.9,757.4 L596.3,755.4 L596.8,753.4 L597.2,751.5 L597.7,749.5 L598.2,747.6 L598.6,745.6 L599.1,743.7 L599.6,741.7 L600.1,739.8 L600.6,737.8 L601.0,735.9 L601.5,733.9 L602.0,732.0 L602.5,730.1 L603.1,728.1 L603.6,726.2 L604.1,724.2 L604.6,722.3 L605.2,720.4 L605.7,718.4 L606.2,716.5 L606.8,714.6 L607.3,712.7 L607.9,710.8 L608.5,708.8 L609.1,706.9 L609.6,705.0 L610.2,703.1 L610.8,701.2 L611.5,699.3 L612.1,697.4 L612.7,695.5 L613.3,693.6 L614.0,691.7 L614.6,689.8 L615.3,687.9 L615.9,686.1 L616.6,684.2 L617.3,682.3 L618.0,680.5 L618.7,678.6 L619.4,676.7 L620.1,674.9 L620.8,673.0 L621.5,671.2 L622.3,669.3 L623.0,667.5 L623.8,665.6 L624.5,663.8 L625.3,661.9 L626.1,660.1 L626.9,658.3 L627.6,656.4 L628.4,654.6 L629.2,652.8 L630.0,651.0 L630.9,649.2 L631.7,647.3 L632.5,645.5 L633.4,643.7 L634.2,641.9 L635.0,640.1 L635.9,638.3 L636.8,636.5 L637.6,634.7 L638.5,632.9 L639.4,631.2 L640.3,629.4 L641.2,627.6 L642.1,625.8 L643.0,624.0 L643.9,622.3 L644.8,620.5 L645.7,618.7 L646.7,617.0 L647.6,615.2 L648.5,613.4 L649.5,611.7 L650.4,609.9 L651.4,608.2 L652.4,606.4 L653.3,604.7 L654.3,602.9 L655.3,601.2 L656.3,599.5 L657.3,597.7 L658.3,596.0 L659.3,594.3 L660.3,592.5 L661.3,590.8 L662.3,589.1 L663.3,587.4 L664.3,585.6 L665.4,583.9 L666.4,582.2 L667.4,580.5 L668.5,578.8 L669.5,577.1 L670.6,575.4 L671.6,573.7 L672.7,572.0 L673.7,570.3 L674.8,568.6 L675.9,566.9 L677.0,565.2 L678.0,563.5 L679.1,561.8 L680.2,560.2 L681.3,558.5 L682.4,556.8 L683.5,555.1 L684.6,553.4 L685.7,551.8 L686.8,550.1 L687.9,548.4 L689.0,546.8 L690.2,545.1 L691.3,543.4 L692.4,541.8 L693.5,540.1 L694.7,538.5 L695.8,536.8 L697.0,535.2 L698.1,533.5 L699.3,531.9 L700.4,530.2 L701.6,528.6 L702.7,527.0 L703.9,525.3 L705.1,523.7 L706.2,522.1 L707.4,520.5 L708.6,518.8 L709.8,517.2 L711.0,515.6 L712.2,514.0 L713.4,512.4 L714.6,510.8 L715.8,509.2 L717.0,507.6 L718.2,506.0 L719.4,504.4 L720.6,502.8 L721.8,501.2 L723.1,499.6 L724.3,498.1 L725.5,496.5 L726.8,494.9 L728.0,493.3 L729.3,491.8 L730.5,490.2 L731.8,488.6 L733.1,487.1 L734.3,485.5 L735.6,484.0 L736.9,482.5 L738.1,480.9 L739.4,479.4 L740.7,477.9 L742.0,476.3 L743.3,474.8 L744.6,473.3 L745.9,471.8 L747.2,470.3 L748.5,468.7 L749.9,467.2 L751.2,465.7 L752.5,464.3 L753.8,462.8 L755.2,461.3 L756.5,459.8 L757.9,458.3 L759.2,456.9 L760.6,455.4 L761.9,453.9 L763.3,452.5 L764.7,451.0 L766.0,449.6 L767.4,448.1 L768.8,446.7 L770.2,445.2 L771.6,443.8 L773.0,442.4 L774.4,441.0 L775.8,439.5 L777.2,438.1 L778.6,436.7 L780.0,435.3 L781.4,433.9 L782.9,432.5 L784.3,431.2 L785.8,429.8 L787.2,428.4 L788.6,427.0 L790.1,425.7 L791.6,424.3 L793.0,423.0 L794.5,421.6 L796.0,420.3 L797.4,418.9 L798.9,417.6 L800.4,416.3 L801.9,415.0 L803.4,413.6 L804.9,412.3 L806.4,411.0 L807.9,409.7 L809.5,408.4 L811.0,407.2 L812.5,405.9 L814.0,404.6 L815.6,403.3 L817.1,402.1 L818.7,400.8 L820.2,399.6 L821.8,398.3 L823.4,397.1 L824.9,395.8 L826.5,394.6 L828.1,393.4 L829.7,392.2 L831.3,391.0 L832.9,389.8 L834.5,388.6 L836.1,387.4 L837.7,386.2 L839.3,385.0 L840.9,383.9 L842.6,382.7 L844.2,381.6 L845.8,380.4 L847.5,379.3 L849.1,378.1 L850.8,377.0 L852.4,375.9 L854.1,374.7 L855.8,373.6 L857.4,372.5 L859.1,371.4 L860.8,370.3 L862.5,369.2 L864.2,368.2 L865.8,367.1 L867.5,366.0 L869.2,365.0 L870.9,363.9 L872.7,362.9 L874.4,361.8 L876.1,360.8 L877.8,359.8 L879.5,358.7 L881.3,357.7 L883.0,356.7 L884.7,355.7 L886.5,354.7 L888.2,353.7 L890.0,352.7 L891.7,351.8 L893.5,350.8 L895.2,349.8 L897.0,348.9 L898.8,347.9 L900.5,347.0 L902.3,346.1 L904.1,345.1 L905.9,344.2 L907.7,343.3 L909.4,342.4 L911.2,341.5 L913.0,340.6 L914.8,339.7 L916.6,338.8 L918.4,337.9 L920.2,337.1 L922.0,336.2 L923.9,335.3 L925.7,334.5 L927.5,333.7 L929.3,332.8 L931.1,332.0 L933.0,331.2 L934.8,330.4 L936.6,329.5 L938.5,328.7 L940.3,328.0 L942.2,327.2 L944.0,326.4 L945.8,325.6 L947.7,324.8 L949.5,324.1 L951.4,323.3 L953.3,322.6 L955.1,321.9 L957.0,321.1 L958.8,320.4 L960.7,319.7 L962.6,319.0 L964.5,318.3 L966.3,317.6 L968.2,316.9 L970.1,316.2 L972.0,315.5 L973.8,314.9 L975.7,314.2 L977.6,313.5 L979.5,312.9 L981.4,312.2 L983.3,311.6 L985.2,311.0 L987.1,310.3 L989.0,309.7 L990.9,309.1 L992.8,308.5 L994.7,307.9 L996.6,307.3 L998.5,306.7 L1000.4,306.1 L1002.3,305.5 L1004.2,304.9 L1006.1,304.3 L1008.0,303.7 L1009.9,303.2 L1011.8,302.6 L1013.7,302.0 L1015.6,301.5 L1017.6,300.9 L1019.5,300.3 L1021.4,299.8 L1023.3,299.2 L1025.2,298.7 L1027.1,298.1 L1029.1,297.6 L1031.0,297.0 L1032.9,296.5 L1034.8,295.9 L1036.8,295.4 L1038.7,294.9 L1040.6,294.3 L1042.5,293.8 L1044.5,293.3 L1046.4,292.8 L1048.3,292.2 L1050.2,291.7 L1052.2,291.2 L1054.1,290.7 L1056.0,290.2 L1058.0,289.7 L1059.9,289.1 L1061.8,288.6 L1063.8,288.1 L1065.7,287.6 L1067.6,287.1 L1069.6,286.6 L1071.5,286.1 L1073.5,285.7 L1075.4,285.2 L1077.3,284.7 L1079.3,284.2 L1081.2,283.7 L1083.2,283.2 L1085.1,282.8 L1087.0,282.3 L1089.0,281.8 L1090.9,281.3 L1092.9,280.9 L1094.8,280.4 L1096.8,279.9 L1098.7,279.5 L1100.7,279.0 L1102.6,278.6 L1104.6,278.1 L1106.5,277.7 L1108.4,277.2 L1110.4,276.8 L1112.4,276.3 L1114.3,275.9 L1116.3,275.4 L1118.2,275.0 L1120.2,274.6 L1122.1,274.1 L1124.1,273.7 L1126.0,273.3 L1128.0,272.8 L1129.9,272.4 L1131.9,272.0 L1133.8,271.6 L1135.8,271.2 L1137.8,270.7 L1139.7,270.3 L1141.7,269.9 L1143.6,269.5 L1145.6,269.1 L1147.6,268.7 L1149.5,268.3 L1151.5,267.9 L1153.4,267.5 L1155.4,267.1 L1157.4,266.7 L1159.3,266.3 L1161.3,265.9 L1163.3,265.5 L1165.2,265.1 L1167.2,264.8 L1169.2,264.4 L1171.1,264.0 L1173.1,263.6 L1175.1,263.3 L1177.0,262.9 L1179.0,262.5 L1181.0,262.1 L1182.9,261.8 L1184.9,261.4 L1186.9,261.0 L1188.8,260.7 L1190.8,260.3 L1192.8,260.0 L1194.8,259.6 L1196.7,259.3 L1198.7,258.9 L1200.7,258.6 L1202.6,258.2 L1204.6,257.9 L1206.6,257.5 L1208.6,257.2 L1210.5,256.9 L1212.5,256.5 L1214.5,256.2 L1216.5,255.8 L1218.4,255.5 L1220.4,255.2 L1222.4,254.9 L1224.4,254.5 L1226.3,254.2 L1228.3,253.9 L1230.3,253.6 L1232.3,253.3 L1234.2,252.9 L1236.2,252.6 L1238.2,252.3 L1240.2,252.0 L1242.1,251.7 L1244.1,251.4 L1246.1,251.1 L1248.1,250.8 L1250.1,250.5 L1252.0,250.2 L1254.0,249.9 L1256.0,249.6 L1258.0,249.3 L1259.9,249.0 L1261.9,248.7 L1263.9,248.4 L1265.9,248.2 L1267.9,247.9 L1269.8,247.6 L1271.8,247.3 L1273.8,247.0 L1275.8,246.8 L1277.8,246.5 L1279.8,246.2 L1281.7,245.9 L1283.7,245.7 L1285.7,245.4 L1287.7,245.1 L1289.7,244.9 L1291.6,244.6 L1293.6,244.4 L1295.6,244.1 L1297.6,243.8 L1299.6,243.6 L1301.6,243.3 L1303.5,243.1 L1305.5,242.8 L1307.5,242.6 L1309.5,242.3 L1311.5,242.1 L1313.5,241.8 L1315.4,241.6 L1317.4,241.4 L1319.4,241.1 L1321.4,240.9 L1323.4,240.7 L1325.4,240.4 L1327.4,240.2 L1329.3,240.0 L1331.3,239.7 L1333.3,239.5 L1335.3,239.3 L1337.3,239.0 L1339.3,238.8 L1341.3,238.6 L1343.2,238.4 L1345.2,238.2 L1347.2,237.9 L1349.2,237.7 L1351.2,237.5 L1353.2,237.3 L1355.2,237.1 L1357.1,236.9 L1359.1,236.7 L1361.1,236.4 L1363.1,236.2 L1365.1,236.0 L1367.1,235.8 L1369.1,235.6 L1371.1,235.4 L1373.1,235.2 L1375.0,235.0 L1377.0,234.8 L1379.0,234.6 L1381.0,234.4 L1383.0,234.2 L1385.0,234.1 L1387.0,233.9 L1389.0,233.7 L1391.0,233.5 L1392.9,233.3 L1394.9,233.1 L1396.9,232.9 L1398.9,232.7 L1400.9,232.6 L1402.9,232.4 L1404.9,232.2 L1406.9,232.0 L1408.9,231.8 L1410.9,231.7 L1412.9,231.5 L1414.8,231.3 L1416.8,231.2 L1418.8,231.0 L1420.8,230.8 L1422.8,230.6 L1424.8,230.5 L1426.8,230.3 L1428.8,230.1 L1430.8,230.0 L1432.8,229.8 L1434.8,229.6 L1436.8,229.5 L1438.7,229.3 L1440.7,229.2 L1442.7,229.0 L1444.7,228.9 L1446.7,228.7 L1448.7,228.5 L1450.7,228.4 L1452.7,228.2 L1454.7,228.1 L1456.7,227.9 L1458.7,227.8 L1460.7,227.6 L1462.7,227.5 L1464.7,227.3 L1466.7,227.2 L1468.6,227.0 L1470.6,226.9 L1472.6,226.7 L1474.6,226.6 L1476.6,226.5 L1478.6,226.3 L1480.6,226.2 L1482.6,226.0 L1484.6,225.9 L1486.6,225.8 L1488.6,225.6 L1490.6,225.5 L1492.6,225.4 L1494.6,225.2 L1496.6,225.1 L1498.6,225.0 L1500.6,224.8 L1502.6,224.7 L1504.6,224.6 L1506.5,224.4 L1508.5,224.3 L1510.5,224.2 L1512.5,224.1 L1514.5,223.9 L1516.5,223.8 L1518.5,223.7 L1520.5,223.6 L1522.5,223.4 L1524.5,223.3 L1526.5,223.2 L1528.5,223.1 L1530.5,223.0 L1532.5,222.8 L1534.5,222.7 L1536.5,222.6 L1538.5,222.5 L1540.5,222.4 L1542.5,222.3 L1544.5,222.1 L1546.5,222.0 L1548.5,221.9 L1550.5,221.8 L1552.5,221.7 L1554.5,221.6 L1556.5,221.5 L1558.5,221.4 L1560.4,221.3 L1562.4,221.2 L1564.4,221.1 L1566.4,221.0 L1568.4,220.9 L1570.4,220.7 L1572.4,220.6 L1574.4,220.5 L1576.4,220.4 L1578.4,220.3 L1580.4,220.2 L1582.4,220.1 L1584.4,220.0 L1586.4,219.9 L1588.4,219.9 L1590.4,219.8 L1592.4,219.7 L1594.4,219.6 L1596.4,219.5 L1598.4,219.4 L1600.4,219.3 L1602.4,219.2 L1604.4,219.1 L1606.4,219.0 L1608.4,218.9 L1610.4,218.8 L1612.4,218.7 L1614.4,218.7 L1616.4,218.6 L1618.4,218.5 L1620.4,218.4 L1622.4,218.3 L1624.4,218.2 L1626.4,218.1 L1628.4,218.1 L1630.4,218.0 L1632.4,217.9 L1634.4,217.8 L1636.4,217.7 L1638.4,217.7 L1640.4,217.6 L1642.4,217.5 L1644.4,217.4 L1646.4,217.3 L1648.4,217.3 L1650.4,217.2 L1652.4,217.1 L1654.4,217.0 L1656.4,217.0 L1658.4,216.9 L1660.4,216.8 L1662.4,216.7 L1664.4,216.7 L1666.4,216.6 L1668.4,216.5 L1670.4,216.4 L1672.4,216.4 L1674.4,216.3 L1676.4,216.2 L1678.4,216.2 L1680.4,216.1 L1682.4,216.0 L1684.4,216.0 L1686.4,215.9 L1688.4,215.8 L1690.4,215.8 L1692.4,215.7 L1694.4,215.6 L1696.4,215.6 L1698.4,215.5 L1700.4,215.4 L1702.4,215.4 L1704.4,215.3 L1706.4,215.3 L1708.4,215.2 L1710.4,215.1 L1712.4,215.1 L1714.4,215.0 L1716.4,215.0 L1718.4,214.9 L1720.4,214.8 L1722.4,214.8 L1724.4,214.7 L1726.4,214.7 L1728.4,214.6 L1730.4,214.6 L1732.4,214.5 L1734.4,214.5 L1736.4,214.4 L1738.4,214.3 L1740.4,214.3 L1742.4,214.2 L1744.4,214.2 L1746.4,214.1 L1748.4,214.1 L1750.4,214.0 L1752.4,214.0 L1754.4,213.9 L1756.4,213.9 L1758.4,213.8 L1760.4,213.8 L1762.4,213.7 L1764.4,213.7 L1766.4,213.6 L1768.4,213.6 L1770.4,213.5 L1772.4,213.5 L1774.4,213.4 L1776.4,213.4 L1778.4,213.3 L1780.4,213.3 L1782.4,213.3 L1784.4,213.2 L1786.4,213.2 L1788.4,213.1 L1790.4,213.1 L1792.4,213.0 L1794.4,213.0 L1796.4,212.9 L1798.4,212.9 L1800.4,212.9 L1802.4,212.8 L1804.4,212.8 L1806.4,212.7 L1808.4,212.7 L1810.4,212.6 L1812.4,212.6 L1814.4,212.6 L1816.4,212.5 L1818.4,212.5 L1820.4,212.4 L1822.4,212.4 L1824.4,212.4 L1826.4,212.3 L1828.4,212.3 L1830.4,212.3 L1832.4,212.2 L1834.4,212.2 L1836.4,212.1 L1838.4,212.1 L1840.4,212.1 L1842.4,212.0 L1844.4,212.0 L1846.4,212.0 L1848.4,211.9 L1850.4,211.9 L1852.4,211.8 L1854.4,211.8 L1856.4,211.8 L1858.4,211.7 L1860.4,211.7 L1862.4,211.7 L1864.4,211.6 L1866.4,211.6 L1868.4,211.6 L1870.4,211.5 L1872.3,211.5 L1874.3,211.5 L1876.3,211.4 L1878.3,211.4 L1880.3,211.4 L1882.3,211.3 L1884.3,211.3 L1886.3,211.3 L1888.3,211.2 L1890.3,211.2 L1892.3,211.2 L1894.3,211.1 L1896.3,211.1 L1898.3,211.1 L1900.3,211.0 L1902.3,211.0 L1904.3,211.0 L1906.3,210.9 L1908.3,210.9 L1910.3,210.9 L1912.3,210.9 L1914.3,210.8 L1916.3,210.8 L1918.3,210.8 L1920.3,210.7 L1922.3,210.7 L1924.3,210.7 L1926.3,210.6 L1928.3,210.6 L1930.3,210.6 L1930.6,210.6"/>
<path stroke="#00b050" d="M223.5,1080.8 L268.5,1080.8 L270.5,1081.3 L272.4,1081.8 L274.4,1082.3 L276.3,1082.8 L278.3,1083.3 L280.2,1083.8 L282.2,1084.3 L284.1,1084.8 L286.0,1085.3 L288.0,1085.8 L289.9,1086.3 L291.9,1086.8 L293.8,1087.3 L295.8,1087.8 L297.7,1088.3 L299.6,1088.8 L301.6,1089.3 L303.5,1089.8 L305.5,1090.3 L307.4,1090.8 L309.3,1091.3 L311.3,1091.8 L313.2,1092.3 L315.1,1092.8 L317.1,1093.3 L319.0,1093.8 L320.9,1094.3 L322.9,1094.8 L324.8,1095.3 L326.7,1095.8 L328.7,1096.3 L330.6,1096.9 L332.5,1097.4 L334.5,1097.9 L336.4,1098.4 L338.3,1098.9 L340.3,1099.4 L342.2,1099.9 L344.1,1100.4 L346.0,1100.9 L348.0,1101.4 L349.9,1101.9 L351.8,1102.4 L353.8,1102.9 L355.7,1103.4 L357.6,1103.9 L359.5,1104.4 L361.5,1104.9 L363.4,1105.4 L365.3,1105.9 L367.3,1106.4 L369.2,1106.8 L371.1,1107.3 L373.1,1107.8 L375.0,1108.3 L376.9,1108.8 L378.8,1109.3 L380.8,1109.8 L382.7,1110.3 L384.6,1110.8 L386.6,1111.2 L388.5,1111.7 L390.4,1112.2 L392.4,1112.7 L394.3,1113.2 L396.2,1113.6 L398.2,1114.1 L400.1,1114.6 L402.1,1115.0 L404.0,1115.5 L405.9,1116.0 L407.9,1116.5 L409.8,1116.9 L411.8,1117.4 L413.7,1117.8 L415.6,1118.3 L417.6,1118.8 L419.5,1119.2 L421.5,1119.7 L423.4,1120.1 L425.4,1120.6 L427.3,1121.0 L429.3,1121.5 L431.2,1121.9 L433.2,1122.3 L435.1,1122.8 L437.1,1123.2 L439.0,1123.7 L441.0,1124.1 L442.9,1124.5 L444.9,1124.9 L446.9,1125.4 L448.8,1125.8 L450.8,1126.2 L452.7,1126.6 L454.7,1127.0 L456.7,1127.5 L458.6,1127.9 L460.6,1128.3 L462.6,1128.7 L464.6,1129.1 L466.5,1129.5 L468.5,1129.9 L470.5,1130.3 L472.5,1130.7 L474.4,1131.0 L476.4,1131.4 L478.4,1131.8 L480.4,1132.2 L482.4,1132.6 L484.4,1132.9 L486.4,1133.3 L488.4,1133.6 L490.4,1133.9 L492.3,1134.2 L494.4,1134.5 L496.4,1134.7 L498.4,1135.0 L500.4,1135.2 L502.4,1135.4 L504.4,1135.5 L506.4,1135.7 L508.5,1135.7 L510.5,1135.8 L512.5,1135.8 L514.6,1135.8 L516.6,1135.7 L518.7,1135.6 L520.7,1135.4 L522.7,1135.2 L524.7,1135.0 L526.7,1134.6 L528.7,1134.2 L530.6,1133.8 L532.5,1133.2 L534.4,1132.6 L536.2,1131.9 L537.9,1131.1 L539.6,1130.2 L541.2,1129.2 L542.7,1128.1 L544.2,1127.0 L545.6,1125.7 L546.9,1124.4 L548.2,1123.0 L549.4,1121.6 L550.5,1120.1 L551.6,1118.5 L552.6,1116.9 L553.5,1115.2 L554.4,1113.5 L555.2,1111.7 L555.9,1109.9 L556.7,1108.0 L557.3,1106.1 L558.0,1104.2 L558.6,1102.2 L559.1,1100.3 L559.7,1098.3 L560.2,1096.2 L560.6,1094.2 L561.1,1092.1 L561.5,1090.1 L561.9,1088.0 L562.3,1085.9 L562.7,1083.9 L563.0,1081.8 L563.4,1079.7 L563.7,1077.7 L564.1,1075.6 L564.4,1073.6 L564.7,1071.5 L565.1,1069.5 L565.4,1067.5 L565.7,1065.5 L566.0,1063.5 L566.3,1061.4 L566.6,1059.4 L566.9,1057.4 L567.2,1055.5 L567.5,1053.5 L567.8,1051.5 L568.0,1049.5 L568.3,1047.5 L568.6,1045.6 L568.8,1043.6 L569.1,1041.6 L569.4,1039.7 L569.6,1037.7 L569.9,1035.7 L570.1,1033.8 L570.4,1031.8 L570.6,1029.9 L570.9,1027.9 L571.1,1026.0 L571.3,1024.1 L571.6,1022.1 L571.8,1020.2 L572.0,1018.2 L572.3,1016.3 L572.5,1014.3 L572.8,1012.4 L573.0,1010.5 L573.2,1008.5 L573.5,1006.6 L573.7,1004.6 L573.9,1002.7 L574.2,1000.7 L574.4,998.8 L574.6,996.9 L574.9,994.9 L575.1,993.0 L575.4,991.0 L575.6,989.0 L575.8,987.1 L576.1,985.1 L576.3,983.2 L576.6,981.2 L576.8,979.2 L577.1,977.3 L577.3,975.3 L577.6,973.3 L577.9,971.4 L578.1,969.4 L578.4,967.4 L578.7,965.5 L578.9,963.5 L579.2,961.5 L579.5,959.5 L579.7,957.5 L580.0,955.6 L580.3,953.6 L580.6,951.6 L580.9,949.6 L581.2,947.6 L581.5,945.7 L581.8,943.7 L582.0,941.7 L582.3,939.7 L582.7,937.7 L583.0,935.7 L583.3,933.7 L583.6,931.7 L583.9,929.8 L584.2,927.8 L584.5,925.8 L584.9,923.8 L585.2,921.8 L585.5,919.8 L585.9,917.8 L586.2,915.8 L586.5,913.9 L586.9,911.9 L587.2,909.9 L587.6,907.9 L588.0,905.9 L588.3,903.9 L588.7,901.9 L589.1,900.0 L589.4,898.0 L589.8,896.0 L590.2,894.0 L590.6,892.0 L591.0,890.0 L591.4,888.1 L591.8,886.1 L592.2,884.1 L592.6,882.1 L593.0,880.2 L593.4,878.2 L593.9,876.2 L594.3,874.3 L594.7,872.3 L595.2,870.3 L595.6,868.4 L596.1,866.4 L596.5,864.4 L597.0,862.5 L597.4,860.5 L597.9,858.6 L598.4,856.6 L598.9,854.7 L599.3,852.7 L599.8,850.8 L600.3,848.8 L600.8,846.9 L601.3,844.9 L601.9,843.0 L602.4,841.1 L602.9,839.1 L603.4,837.2 L604.0,835.3 L604.5,833.3 L605.1,831.4 L605.6,829.5 L606.2,827.6 L606.7,825.7 L607.3,823.7 L607.8,821.8 L608.4,819.9 L609.0,818.0 L609.5,816.1 L610.1,814.2 L610.7,812.3 L611.2,810.4 L611.8,808.5 L612.4,806.5 L612.9,804.6 L613.5,802.7 L614.1,800.8 L614.6,798.9 L615.2,797.0 L615.8,795.1 L616.3,793.2 L616.9,791.3 L617.4,789.4 L617.9,787.4 L618.5,785.5 L619.0,783.6 L619.5,781.7 L620.0,779.8 L620.6,777.8 L621.1,775.9 L621.6,774.0 L622.0,772.0 L622.5,770.1 L623.0,768.2 L623.5,766.2 L623.9,764.3 L624.4,762.4 L624.8,760.4 L625.3,758.5 L625.7,756.5 L626.2,754.6 L626.6,752.6 L627.0,750.7 L627.4,748.7 L627.9,746.8 L628.3,744.8 L628.7,742.9 L629.1,740.9 L629.5,738.9 L629.9,737.0 L630.3,735.0 L630.7,733.1 L631.0,731.1 L631.4,729.1 L631.8,727.2 L632.2,725.2 L632.6,723.2 L632.9,721.3 L633.3,719.3 L633.7,717.3 L634.0,715.4 L634.4,713.4 L634.8,711.4 L635.1,709.4 L635.5,707.5 L635.9,705.5 L636.2,703.5 L636.6,701.6 L636.9,699.6 L637.3,697.6 L637.7,695.6 L638.0,693.7 L638.4,691.7 L638.7,689.7 L639.1,687.8 L639.5,685.8 L639.8,683.8 L640.2,681.8 L640.6,679.9 L640.9,677.9 L641.3,675.9 L641.7,674.0 L642.0,672.0 L642.4,670.0 L642.8,668.1 L643.2,666.1 L643.6,664.1 L643.9,662.2 L644.3,660.2 L644.7,658.2 L645.1,656.3 L645.5,654.3 L645.9,652.3 L646.3,650.4 L646.8,648.4 L647.2,646.5 L647.6,644.5 L648.0,642.6 L648.5,640.6 L648.9,638.7 L649.4,636.7 L649.8,634.8 L650.3,632.8 L650.7,630.9 L651.2,628.9 L651.7,627.0 L652.1,625.1 L652.6,623.1 L653.1,621.2 L653.6,619.3 L654.1,617.3 L654.6,615.4 L655.2,613.5 L655.7,611.6 L656.2,609.6 L656.8,607.7 L657.3,605.8 L657.9,603.9 L658.5,602.0 L659.0,600.1 L659.6,598.2 L660.2,596.3 L660.8,594.4 L661.4,592.5 L662.1,590.6 L662.7,588.7 L663.3,586.8 L664.0,585.0 L664.6,583.1 L665.3,581.2 L666.0,579.3 L666.7,577.5 L667.4,575.6 L668.1,573.8 L668.8,571.9 L669.6,570.1 L670.3,568.2 L671.1,566.4 L671.8,564.5 L672.6,562.7 L673.4,560.9 L674.2,559.0 L675.0,557.2 L675.9,555.4 L676.7,553.6 L677.6,551.8 L678.4,550.0 L679.3,548.2 L680.2,546.4 L681.1,544.6 L682.0,542.8 L682.9,541.0 L683.9,539.2 L684.8,537.5 L685.8,535.7 L686.7,533.9 L687.7,532.2 L688.7,530.4 L689.7,528.7 L690.7,527.0 L691.7,525.2 L692.8,523.5 L693.8,521.8 L694.9,520.1 L695.9,518.3 L697.0,516.6 L698.1,514.9 L699.2,513.3 L700.3,511.6 L701.4,509.9 L702.5,508.2 L703.6,506.6 L704.7,504.9 L705.9,503.2 L707.0,501.6 L708.2,500.0 L709.3,498.3 L710.5,496.7 L711.7,495.1 L712.9,493.5 L714.1,491.9 L715.3,490.3 L716.5,488.7 L717.7,487.1 L718.9,485.5 L720.1,483.9 L721.3,482.4 L722.6,480.8 L723.8,479.2 L725.1,477.7 L726.3,476.1 L727.6,474.6 L728.8,473.1 L730.1,471.5 L731.4,470.0 L732.6,468.5 L733.9,466.9 L735.2,465.4 L736.5,463.9 L737.8,462.4 L739.1,460.8 L740.3,459.3 L741.6,457.8 L742.9,456.3 L744.2,454.8 L745.5,453.3 L746.8,451.8 L748.1,450.3 L749.4,448.7 L750.7,447.2 L752.0,445.7 L753.3,444.2 L754.6,442.7 L755.9,441.2 L757.2,439.6 L758.5,438.1 L759.8,436.6 L761.1,435.1 L762.4,433.5 L763.7,432.0 L765.0,430.5 L766.3,428.9 L767.6,427.4 L768.9,425.9 L770.2,424.3 L771.5,422.8 L772.8,421.3 L774.1,419.7 L775.4,418.2 L776.7,416.7 L778.0,415.2 L779.4,413.6 L780.7,412.1 L782.0,410.6 L783.3,409.1 L784.7,407.6 L786.0,406.1 L787.4,404.7 L788.7,403.2 L790.1,401.7 L791.5,400.3 L792.8,398.8 L794.2,397.4 L795.6,396.0 L797.0,394.6 L798.5,393.2 L799.9,391.8 L801.3,390.4 L802.8,389.0 L804.2,387.7 L805.7,386.3 L807.2,385.0 L808.7,383.7 L810.2,382.4 L811.7,381.2 L813.3,379.9 L814.8,378.7 L816.4,377.5 L818.0,376.3 L819.5,375.1 L821.1,373.9 L822.8,372.7 L824.4,371.6 L826.0,370.4 L827.6,369.3 L829.3,368.2 L830.9,367.0 L832.6,365.9 L834.3,364.8 L835.9,363.7 L837.6,362.6 L839.3,361.5 L840.9,360.4 L842.6,359.3 L844.3,358.2 L846.0,357.1 L847.7,356.0 L849.4,355.0 L851.0,353.9 L852.7,352.8 L854.4,351.7 L856.1,350.6 L857.8,349.5 L859.5,348.5 L861.2,347.4 L862.9,346.3 L864.6,345.2 L866.3,344.2 L868.0,343.1 L869.7,342.1 L871.5,341.0 L873.2,339.9 L874.9,338.9 L876.6,337.8 L878.3,336.8 L880.1,335.8 L881.8,334.7 L883.5,333.7 L885.3,332.7 L887.0,331.7 L888.7,330.7 L890.5,329.7 L892.2,328.7 L894.0,327.7 L895.7,326.7 L897.5,325.7 L899.2,324.7 L901.0,323.7 L902.8,322.8 L904.5,321.8 L906.3,320.9 L908.1,319.9 L909.8,319.0 L911.6,318.0 L913.4,317.1 L915.2,316.2 L917.0,315.3 L918.8,314.4 L920.5,313.5 L922.3,312.6 L924.1,311.7 L925.9,310.9 L927.8,310.0 L929.6,309.2 L931.4,308.3 L933.2,307.5 L935.0,306.7 L936.8,305.9 L938.7,305.1 L940.5,304.3 L942.3,303.5 L944.2,302.7 L946.0,301.9 L947.9,301.2 L949.7,300.4 L951.6,299.7 L953.4,299.0 L955.3,298.3 L957.2,297.6 L959.0,296.9 L960.9,296.2 L962.8,295.6 L964.7,294.9 L966.5,294.3 L968.4,293.6 L970.3,293.0 L972.2,292.4 L974.1,291.8 L976.0,291.2 L977.9,290.7 L979.8,290.1 L981.8,289.6 L983.7,289.0 L985.6,288.5 L987.5,287.9 L989.4,287.4 L991.4,286.9 L993.3,286.4 L995.2,285.9 L997.2,285.4 L999.1,284.9 L1001.0,284.4 L1003.0,283.9 L1004.9,283.5 L1006.9,283.0 L1008.8,282.5 L1010.8,282.1 L1012.7,281.6 L1014.7,281.1 L1016.6,280.7 L1018.5,280.2 L1020.5,279.8 L1022.4,279.3 L1024.4,278.9 L1026.3,278.4 L1028.3,278.0 L1030.2,277.5 L1032.2,277.1 L1034.1,276.6 L1036.1,276.2 L1038.0,275.7 L1040.0,275.3 L1041.9,274.8 L1043.9,274.4 L1045.8,273.9 L1047.8,273.5 L1049.7,273.1 L1051.7,272.6 L1053.7,272.2 L1055.6,271.7 L1057.6,271.3 L1059.5,270.9 L1061.5,270.4 L1063.4,270.0 L1065.4,269.6 L1067.3,269.1 L1069.3,268.7 L1071.2,268.3 L1073.2,267.9 L1075.2,267.4 L1077.1,267.0 L1079.1,266.6 L1081.0,266.2 L1083.0,265.7 L1084.9,265.3 L1086.9,264.9 L1088.9,264.5 L1090.8,264.1 L1092.8,263.6 L1094.7,263.2 L1096.7,262.8 L1098.6,262.4 L1100.6,262.0 L1102.6,261.6 L1104.5,261.2 L1106.5,260.8 L1108.4,260.4 L1110.4,260.0 L1112.4,259.6 L1114.3,259.2 L1116.3,258.8 L1118.3,258.4 L1120.2,258.0 L1122.2,257.6 L1124.1,257.2 L1126.1,256.8 L1128.1,256.4 L1130.0,256.0 L1132.0,255.6 L1134.0,255.2 L1135.9,254.8 L1137.9,254.5 L1139.9,254.1 L1141.8,253.7 L1143.8,253.3 L1145.7,252.9 L1147.7,252.6 L1149.7,252.2 L1151.6,251.8 L1153.6,251.4 L1155.6,251.1 L1157.5,250.7 L1159.5,250.3 L1161.5,250.0 L1163.5,249.6 L1165.4,249.2 L1167.4,248.9 L1169.4,248.5 L1171.3,248.2 L1173.3,247.8 L1175.3,247.5 L1177.2,247.1 L1179.2,246.8 L1181.2,246.4 L1183.1,246.1 L1185.1,245.7 L1187.1,245.4 L1189.1,245.0 L1191.0,244.7 L1193.0,244.3 L1195.0,244.0 L1197.0,243.7 L1198.9,243.3 L1200.9,243.0 L1202.9,242.7 L1204.8,242.4 L1206.8,242.0 L1208.8,241.7 L1210.8,241.4 L1212.7,241.1 L1214.7,240.7 L1216.7,240.4 L1218.7,240.1 L1220.6,239.8 L1222.6,239.5 L1224.6,239.2 L1226.6,238.9 L1228.5,238.6 L1230.5,238.3 L1232.5,238.0 L1234.5,237.7 L1236.5,237.4 L1238.4,237.1 L1240.4,236.8 L1242.4,236.5 L1244.4,236.2 L1246.3,235.9 L1248.3,235.6 L1250.3,235.4 L1252.3,235.1 L1254.3,234.8 L1256.2,234.5 L1258.2,234.3 L1260.2,234.0 L1262.2,233.7 L1264.2,233.5 L1266.1,233.2 L1268.1,232.9 L1270.1,232.7 L1272.1,232.4 L1274.1,232.1 L1276.1,231.9 L1278.0,231.6 L1280.0,231.4 L1282.0,231.1 L1284.0,230.9 L1286.0,230.6 L1288.0,230.4 L1289.9,230.2 L1291.9,229.9 L1293.9,229.7 L1295.9,229.4 L1297.9,229.2 L1299.9,229.0 L1301.8,228.7 L1303.8,228.5 L1305.8,228.3 L1307.8,228.1 L1309.8,227.8 L1311.8,227.6 L1313.8,227.4 L1315.7,227.2 L1317.7,227.0 L1319.7,226.8 L1321.7,226.5 L1323.7,226.3 L1325.7,226.1 L1327.7,225.9 L1329.7,225.7 L1331.6,225.5 L1333.6,225.3 L1335.6,225.1 L1337.6,224.9 L1339.6,224.7 L1341.6,224.5 L1343.6,224.3 L1345.6,224.1 L1347.6,223.9 L1349.5,223.8 L1351.5,223.6 L1353.5,223.4 L1355.5,223.2 L1357.5,223.0 L1359.5,222.8 L1361.5,222.7 L1363.5,222.5 L1365.5,222.3 L1367.5,222.1 L1369.5,222.0 L1371.4,221.8 L1373.4,221.6 L1375.4,221.5 L1377.4,221.3 L1379.4,221.1 L1381.4,221.0 L1383.4,220.8 L1385.4,220.6 L1387.4,220.5 L1389.4,220.3 L1391.4,220.2 L1393.4,220.0 L1395.4,219.9 L1397.3,219.7 L1399.3,219.6 L1401.3,219.4 L1403.3,219.3 L1405.3,219.1 L1407.3,219.0 L1409.3,218.8 L1411.3,218.7 L1413.3,218.6 L1415.3,218.4 L1417.3,218.3 L1419.3,218.2 L1421.3,218.0 L1423.3,217.9 L1425.3,217.8 L1427.3,217.6 L1429.3,217.5 L1431.3,217.4 L1433.3,217.2 L1435.2,217.1 L1437.2,217.0 L1439.2,216.9 L1441.2,216.8 L1443.2,216.6 L1445.2,216.5 L1447.2,216.4 L1449.2,216.3 L1451.2,216.2 L1453.2,216.1 L1455.2,216.0 L1457.2,215.8 L1459.2,215.7 L1461.2,215.6 L1463.2,215.5 L1465.2,215.4 L1467.2,215.3 L1469.2,215.2 L1471.2,215.1 L1473.2,215.0 L1475.2,214.9 L1477.2,214.8 L1479.2,214.7 L1481.2,214.6 L1483.2,214.5 L1485.2,214.4 L1487.2,214.3 L1489.2,214.2 L1491.2,214.2 L1493.2,214.1 L1495.2,214.0 L1497.2,213.9 L1499.2,213.8 L1501.2,213.7 L1503.2,213.6 L1505.2,213.5 L1507.2,213.5 L1509.2,213.4 L1511.2,213.3 L1513.2,213.2 L1515.2,213.1 L1517.2,213.1 L1519.2,213.0 L1521.2,212.9 L1523.1,212.8 L1525.1,212.8 L1527.1,212.7 L1529.1,212.6 L1531.1,212.6 L1533.1,212.5 L1535.1,212.4 L1537.1,212.4 L1539.1,212.3 L1541.1,212.2 L1543.1,212.2 L1545.1,212.1 L1547.1,212.0 L1549.1,212.0 L1551.1,211.9 L1553.1,211.8 L1555.1,211.8 L1557.1,211.7 L1559.1,211.7 L1561.1,211.6 L1563.1,211.6 L1565.1,211.5 L1567.1,211.4 L1569.1,211.4 L1571.1,211.3 L1573.1,211.3 L1575.1,211.2 L1577.1,211.2 L1579.1,211.1 L1581.1,211.1 L1583.1,211.0 L1585.1,211.0 L1587.1,210.9 L1589.1,210.9 L1591.1,210.8 L1593.1,210.8 L1595.1,210.7 L1597.1,210.7 L1599.1,210.7 L1601.1,210.6 L1603.1,210.6 L1605.1,210.5 L1607.1,210.5 L1609.1,210.5 L1611.1,210.4 L1613.1,210.4 L1615.1,210.3 L1617.1,210.3 L1619.1,210.3 L1621.1,210.2 L1623.1,210.2 L1625.1,210.1 L1627.1,210.1 L1629.1,210.1 L1631.1,210.0 L1633.1,210.0 L1635.1,210.0 L1637.1,209.9 L1639.1,209.9 L1641.1,209.9 L1643.1,209.8 L1645.1,209.8 L1647.1,209.8 L1649.1,209.8 L1651.1,209.7 L1653.1,209.7 L1655.1,209.7 L1657.1,209.6 L1659.1,209.6 L1661.1,209.6 L1663.1,209.6 L1665.1,209.5 L1667.1,209.5 L1669.1,209.5 L1671.1,209.5 L1673.1,209.4 L1675.1,209.4 L1677.1,209.4 L1679.1,209.4 L1681.1,209.3 L1683.1,209.3 L1685.1,209.3 L1687.1,209.3 L1689.1,209.2 L1691.1,209.2 L1693.1,209.2 L1695.1,209.2 L1697.1,209.1 L1699.1,209.1 L1701.1,209.1 L1703.1,209.1 L1705.1,209.1 L1707.1,209.0 L1709.1,209.0 L1711.1,209.0 L1713.1,209.0 L1715.1,209.0 L1717.1,208.9 L1719.1,208.9 L1721.1,208.9 L1723.1,208.9 L1725.1,208.9 L1727.1,208.9 L1729.1,208.8 L1731.1,208.8 L1733.1,208.8 L1735.1,208.8 L1737.1,208.8 L1739.1,208.7 L1741.1,208.7 L1743.1,208.7 L1745.1,208.7 L1747.1,208.7 L1749.1,208.7 L1751.1,208.6 L1753.1,208.6 L1755.1,208.6 L1757.1,208.6 L1759.1,208.6 L1761.1,208.5 L1763.1,208.5 L1765.1,208.5 L1767.1,208.5 L1769.1,208.5 L1771.1,208.5 L1773.1,208.4 L1775.1,208.4 L1777.1,208.4 L1779.1,208.4 L1781.1,208.4 L1783.1,208.4 L1785.1,208.3 L1787.1,208.3 L1789.1,208.3 L1791.1,208.3 L1793.1,208.3 L1795.1,208.2 L1797.1,208.2 L1799.1,208.2 L1801.1,208.2 L1803.1,208.2 L1805.1,208.2 L1807.1,208.1 L1809.1,208.1 L1811.1,208.1 L1813.1,208.1 L1815.1,208.1 L1817.1,208.0 L1819.1,208.0 L1821.1,208.0 L1823.1,208.0 L1825.1,208.0 L1827.1,207.9 L1829.1,207.9 L1831.1,207.9 L1833.1,207.9 L1835.1,207.8 L1837.1,207.8 L1839.1,207.8 L1841.1,207.8 L1843.1,207.7 L1845.1,207.7 L1847.1,207.7 L1849.1,207.7 L1851.1,207.7 L1853.1,207.6 L1855.1,207.6 L1857.1,207.6 L1859.1,207.5 L1861.1,207.5 L1863.1,207.5 L1865.1,207.5 L1867.1,207.4 L1869.1,207.4 L1871.1,207.4 L1873.1,207.3 L1875.1,207.3 L1877.1,207.3 L1879.1,207.3 L1881.1,207.2 L1883.1,207.2 L1885.1,207.2 L1887.1,207.1 L1889.1,207.1 L1891.1,207.1 L1893.1,207.0 L1895.1,207.0 L1897.1,207.0 L1899.1,206.9 L1901.1,206.9 L1903.1,206.9 L1905.1,206.8 L1907.1,206.8 L1909.1,206.7 L1911.1,206.7 L1913.1,206.7 L1915.1,206.6 L1917.1,206.6 L1919.1,206.5 L1921.1,206.5 L1923.1,206.5 L1925.1,206.4 L1927.1,206.4 L1929.1,206.3 L1930.6,206.3"/>
<path stroke="#7030a0" d="M223.5,1082.5 L268.5,1082.5 L270.4,1082.9 L272.4,1083.3 L274.3,1083.8 L276.3,1084.2 L278.2,1084.6 L280.2,1085.0 L282.1,1085.5 L284.1,1085.9 L286.1,1086.3 L288.0,1086.7 L290.0,1087.2 L291.9,1087.6 L293.9,1088.0 L295.8,1088.5 L297.8,1088.9 L299.7,1089.3 L301.7,1089.8 L303.6,1090.2 L305.6,1090.6 L307.5,1091.1 L309.5,1091.5 L311.4,1092.0 L313.4,1092.4 L315.3,1092.8 L317.3,1093.3 L319.2,1093.7 L321.2,1094.2 L323.1,1094.6 L325.1,1095.0 L327.0,1095.5 L329.0,1095.9 L330.9,1096.4 L332.9,1096.8 L334.8,1097.3 L336.8,1097.7 L338.7,1098.2 L340.7,1098.6 L342.7,1099.0 L344.6,1099.5 L346.6,1099.9 L348.5,1100.4 L350.5,1100.8 L352.4,1101.3 L354.4,1101.7 L356.3,1102.1 L358.3,1102.6 L360.2,1103.0 L362.2,1103.5 L364.1,1103.9 L366.1,1104.4 L368.0,1104.8 L370.0,1105.2 L372.0,1105.7 L373.9,1106.1 L375.9,1106.5 L377.8,1107.0 L379.8,1107.4 L381.7,1107.9 L383.7,1108.3 L385.6,1108.7 L387.6,1109.2 L389.5,1109.6 L391.5,1110.0 L393.5,1110.5 L395.4,1110.9 L397.4,1111.3 L399.3,1111.7 L401.3,1112.2 L403.2,1112.6 L405.2,1113.0 L407.1,1113.4 L409.1,1113.9 L411.1,1114.3 L413.0,1114.7 L415.0,1115.1 L416.9,1115.5 L418.9,1116.0 L420.8,1116.4 L422.8,1116.8 L424.7,1117.2 L426.7,1117.6 L428.7,1118.0 L430.6,1118.4 L432.6,1118.8 L434.5,1119.2 L436.5,1119.6 L438.4,1120.0 L440.4,1120.4 L442.3,1120.8 L444.3,1121.2 L446.3,1121.6 L448.2,1122.0 L450.2,1122.4 L452.1,1122.8 L454.1,1123.2 L456.0,1123.5 L458.0,1123.9 L459.9,1124.3 L461.9,1124.7 L463.9,1125.0 L465.8,1125.4 L467.8,1125.8 L469.7,1126.1 L471.7,1126.5 L473.6,1126.9 L475.6,1127.2 L477.6,1127.6 L479.5,1127.9 L481.5,1128.3 L483.4,1128.6 L485.4,1128.9 L487.4,1129.2 L489.4,1129.6 L491.3,1129.9 L493.3,1130.2 L495.3,1130.4 L497.3,1130.7 L499.3,1131.0 L501.3,1131.2 L503.3,1131.5 L505.3,1131.7 L507.4,1131.9 L509.4,1132.1 L511.4,1132.3 L513.5,1132.4 L515.5,1132.6 L517.6,1132.7 L519.7,1132.8 L521.7,1132.8 L523.8,1132.8 L525.8,1132.8 L527.9,1132.7 L529.9,1132.6 L531.9,1132.4 L533.9,1132.1 L535.9,1131.8 L537.9,1131.5 L539.9,1131.0 L541.8,1130.5 L543.7,1130.0 L545.6,1129.3 L547.4,1128.6 L549.3,1127.8 L551.0,1127.0 L552.8,1126.1 L554.5,1125.1 L556.1,1124.1 L557.7,1123.0 L559.3,1121.8 L560.8,1120.5 L562.2,1119.2 L563.6,1117.9 L564.9,1116.4 L566.1,1114.9 L567.3,1113.4 L568.5,1111.8 L569.6,1110.2 L570.7,1108.5 L571.7,1106.9 L572.6,1105.2 L573.5,1103.5 L574.4,1101.8 L575.3,1100.0 L576.1,1098.2 L576.8,1096.5 L577.5,1094.7 L578.2,1092.8 L578.9,1091.0 L579.5,1089.2 L580.1,1087.3 L580.6,1085.4 L581.2,1083.5 L581.7,1081.6 L582.2,1079.7 L582.6,1077.8 L583.0,1075.8 L583.4,1073.9 L583.8,1071.9 L584.2,1069.9 L584.6,1067.9 L584.9,1066.0 L585.2,1064.0 L585.5,1062.0 L585.8,1060.0 L586.1,1058.0 L586.4,1055.9 L586.7,1053.9 L586.9,1051.9 L587.2,1049.9 L587.5,1047.9 L587.7,1045.8 L588.0,1043.8 L588.2,1041.8 L588.5,1039.8 L588.8,1037.7 L589.0,1035.7 L589.3,1033.7 L589.6,1031.7 L589.9,1029.7 L590.1,1027.7 L590.4,1025.6 L590.7,1023.6 L591.0,1021.6 L591.3,1019.6 L591.6,1017.6 L591.9,1015.6 L592.2,1013.6 L592.5,1011.6 L592.8,1009.6 L593.1,1007.6 L593.4,1005.6 L593.7,1003.6 L594.0,1001.6 L594.3,999.6 L594.6,997.6 L594.9,995.6 L595.3,993.6 L595.6,991.6 L595.9,989.6 L596.2,987.7 L596.6,985.7 L596.9,983.7 L597.3,981.7 L597.6,979.7 L597.9,977.7 L598.3,975.8 L598.6,973.8 L599.0,971.8 L599.3,969.8 L599.7,967.8 L600.0,965.9 L600.4,963.9 L600.8,961.9 L601.1,960.0 L601.5,958.0 L601.9,956.0 L602.2,954.0 L602.6,952.1 L603.0,950.1 L603.3,948.1 L603.7,946.2 L604.1,944.2 L604.5,942.2 L604.9,940.3 L605.2,938.3 L605.6,936.4 L606.0,934.4 L606.4,932.4 L606.8,930.5 L607.2,928.5 L607.6,926.6 L608.0,924.6 L608.4,922.7 L608.8,920.7 L609.2,918.7 L609.6,916.8 L610.0,914.8 L610.4,912.9 L610.9,910.9 L611.3,909.0 L611.7,907.0 L612.1,905.1 L612.5,903.1 L612.9,901.2 L613.4,899.2 L613.8,897.3 L614.2,895.4 L614.7,893.4 L615.1,891.5 L615.5,889.5 L615.9,887.6 L616.4,885.6 L616.8,883.7 L617.3,881.8 L617.7,879.8 L618.1,877.9 L618.6,875.9 L619.0,874.0 L619.5,872.0 L619.9,870.1 L620.4,868.2 L620.8,866.2 L621.3,864.3 L621.7,862.4 L622.2,860.4 L622.6,858.5 L623.1,856.5 L623.5,854.6 L624.0,852.7 L624.5,850.7 L624.9,848.8 L625.4,846.9 L625.9,844.9 L626.3,843.0 L626.8,841.1 L627.3,839.1 L627.7,837.2 L628.2,835.3 L628.7,833.3 L629.1,831.4 L629.6,829.5 L630.1,827.5 L630.6,825.6 L631.0,823.7 L631.5,821.7 L632.0,819.8 L632.5,817.9 L633.0,815.9 L633.4,814.0 L633.9,812.1 L634.4,810.2 L634.9,808.2 L635.4,806.3 L635.9,804.4 L636.4,802.4 L636.8,800.5 L637.3,798.6 L637.8,796.6 L638.3,794.7 L638.8,792.8 L639.3,790.8 L639.8,788.9 L640.3,787.0 L640.8,785.0 L641.3,783.1 L641.8,781.2 L642.3,779.3 L642.8,777.3 L643.3,775.4 L643.8,773.5 L644.3,771.5 L644.8,769.6 L645.3,767.7 L645.8,765.7 L646.3,763.8 L646.8,761.9 L647.3,759.9 L647.8,758.0 L648.3,756.1 L648.8,754.1 L649.3,752.2 L649.8,750.2 L650.3,748.3 L650.8,746.4 L651.3,744.4 L651.9,742.5 L652.4,740.6 L652.9,738.6 L653.4,736.7 L653.9,734.8 L654.4,732.8 L654.9,730.9 L655.4,728.9 L655.9,727.0 L656.4,725.1 L656.9,723.1 L657.5,721.2 L658.0,719.2 L658.5,717.3 L659.0,715.3 L659.5,713.4 L660.0,711.5 L660.5,709.5 L661.0,707.6 L661.5,705.6 L662.0,703.7 L662.5,701.7 L663.0,699.8 L663.6,697.8 L664.1,695.9 L664.6,694.0 L665.1,692.0 L665.6,690.1 L666.1,688.1 L666.6,686.2 L667.0,684.2 L667.5,682.3 L668.0,680.3 L668.5,678.4 L669.0,676.4 L669.5,674.5 L670.0,672.5 L670.5,670.6 L670.9,668.6 L671.4,666.7 L671.9,664.8 L672.4,662.8 L672.8,660.9 L673.3,658.9 L673.8,657.0 L674.2,655.0 L674.7,653.1 L675.2,651.1 L675.6,649.2 L676.1,647.2 L676.5,645.3 L677.0,643.3 L677.4,641.4 L677.9,639.4 L678.3,637.5 L678.7,635.5 L679.2,633.6 L679.6,631.6 L680.0,629.7 L680.5,627.8 L680.9,625.8 L681.3,623.9 L681.7,621.9 L682.1,620.0 L682.6,618.0 L683.0,616.1 L683.4,614.1 L683.8,612.2 L684.3,610.2 L684.7,608.3 L685.1,606.4 L685.5,604.4 L686.0,602.5 L686.4,600.5 L686.8,598.6 L687.2,596.6 L687.7,594.7 L688.1,592.8 L688.5,590.8 L689.0,588.9 L689.4,586.9 L689.9,585.0 L690.3,583.0 L690.8,581.1 L691.2,579.2 L691.7,577.2 L692.1,575.3 L692.6,573.3 L693.1,571.4 L693.5,569.5 L694.0,567.5 L694.5,565.6 L695.0,563.6 L695.5,561.7 L696.0,559.8 L696.5,557.8 L697.0,555.9 L697.5,554.0 L698.1,552.0 L698.6,550.1 L699.1,548.2 L699.7,546.2 L700.2,544.3 L700.8,542.4 L701.4,540.4 L702.0,538.5 L702.5,536.6 L703.1,534.6 L703.7,532.7 L704.3,530.8 L705.0,528.9 L705.6,527.0 L706.2,525.1 L706.9,523.2 L707.5,521.3 L708.2,519.4 L708.9,517.5 L709.5,515.6 L710.2,513.7 L710.9,511.8 L711.7,509.9 L712.4,508.1 L713.1,506.2 L713.9,504.3 L714.6,502.5 L715.4,500.6 L716.2,498.8 L717.0,497.0 L717.8,495.1 L718.6,493.3 L719.4,491.5 L720.2,489.7 L721.1,487.9 L722.0,486.1 L722.8,484.3 L723.7,482.5 L724.6,480.7 L725.5,479.0 L726.5,477.2 L727.4,475.5 L728.4,473.7 L729.3,472.0 L730.3,470.3 L731.3,468.5 L732.3,466.8 L733.3,465.1 L734.4,463.5 L735.4,461.8 L736.5,460.1 L737.6,458.4 L738.6,456.8 L739.7,455.1 L740.8,453.4 L741.9,451.8 L743.0,450.1 L744.1,448.5 L745.3,446.8 L746.4,445.2 L747.5,443.6 L748.7,441.9 L749.8,440.3 L750.9,438.6 L752.1,437.0 L753.2,435.4 L754.4,433.7 L755.5,432.1 L756.7,430.4 L757.8,428.8 L759.0,427.1 L760.1,425.5 L761.3,423.8 L762.4,422.2 L763.6,420.6 L764.8,418.9 L765.9,417.3 L767.1,415.6 L768.3,414.0 L769.5,412.4 L770.7,410.7 L771.9,409.1 L773.1,407.5 L774.3,405.9 L775.5,404.3 L776.7,402.7 L777.9,401.1 L779.1,399.5 L780.3,397.9 L781.6,396.3 L782.8,394.7 L784.1,393.1 L785.3,391.5 L786.6,390.0 L787.8,388.4 L789.1,386.9 L790.4,385.3 L791.7,383.8 L793.0,382.3 L794.3,380.8 L795.6,379.2 L796.9,377.7 L798.2,376.3 L799.6,374.8 L800.9,373.3 L802.3,371.9 L803.7,370.4 L805.0,369.0 L806.4,367.5 L807.8,366.1 L809.2,364.7 L810.6,363.3 L812.1,362.0 L813.5,360.6 L815.0,359.2 L816.4,357.9 L817.9,356.6 L819.4,355.3 L820.9,354.0 L822.4,352.7 L823.9,351.4 L825.4,350.2 L827.0,348.9 L828.5,347.7 L830.1,346.5 L831.7,345.3 L833.3,344.1 L834.9,343.0 L836.5,341.8 L838.1,340.7 L839.8,339.6 L841.4,338.4 L843.1,337.3 L844.8,336.3 L846.4,335.2 L848.1,334.1 L849.8,333.0 L851.5,332.0 L853.2,331.0 L854.9,329.9 L856.7,328.9 L858.4,327.9 L860.1,326.9 L861.9,325.9 L863.6,324.9 L865.4,324.0 L867.2,323.0 L868.9,322.0 L870.7,321.1 L872.5,320.2 L874.3,319.2 L876.0,318.3 L877.8,317.4 L879.6,316.4 L881.4,315.5 L883.2,314.6 L885.0,313.7 L886.8,312.8 L888.6,311.9 L890.5,311.0 L892.3,310.1 L894.1,309.2 L895.9,308.3 L897.7,307.5 L899.5,306.6 L901.3,305.7 L903.2,304.8 L905.0,304.0 L906.8,303.1 L908.6,302.2 L910.4,301.3 L912.2,300.5 L914.1,299.6 L915.9,298.7 L917.7,297.9 L919.5,297.0 L921.3,296.2 L923.1,295.3 L924.9,294.5 L926.8,293.6 L928.6,292.8 L930.4,291.9 L932.2,291.1 L934.1,290.3 L935.9,289.5 L937.7,288.7 L939.5,287.9 L941.4,287.1 L943.2,286.3 L945.1,285.6 L946.9,284.8 L948.8,284.1 L950.6,283.3 L952.5,282.6 L954.3,281.9 L956.2,281.2 L958.1,280.5 L959.9,279.9 L961.8,279.2 L963.7,278.6 L965.6,277.9 L967.5,277.3 L969.4,276.7 L971.3,276.1 L973.2,275.6 L975.1,275.0 L977.0,274.4 L979.0,273.9 L980.9,273.4 L982.8,272.8 L984.8,272.3 L986.7,271.8 L988.6,271.3 L990.6,270.8 L992.5,270.4 L994.5,269.9 L996.4,269.4 L998.4,268.9 L1000.3,268.5 L1002.2,268.0 L1004.2,267.5 L1006.1,267.1 L1008.1,266.6 L1010.0,266.2 L1012.0,265.7 L1013.9,265.2 L1015.9,264.8 L1017.8,264.3 L1019.8,263.9 L1021.7,263.5 L1023.7,263.0 L1025.6,262.6 L1027.6,262.1 L1029.6,261.7 L1031.5,261.3 L1033.5,260.8 L1035.4,260.4 L1037.4,260.0 L1039.3,259.6 L1041.3,259.1 L1043.2,258.7 L1045.2,258.3 L1047.2,257.9 L1049.1,257.5 L1051.1,257.1 L1053.0,256.7 L1055.0,256.2 L1056.9,255.8 L1058.9,255.4 L1060.9,255.0 L1062.8,254.6 L1064.8,254.2 L1066.7,253.9 L1068.7,253.5 L1070.7,253.1 L1072.6,252.7 L1074.6,252.3 L1076.5,251.9 L1078.5,251.5 L1080.5,251.2 L1082.4,250.8 L1084.4,250.4 L1086.4,250.0 L1088.3,249.7 L1090.3,249.3 L1092.3,248.9 L1094.2,248.6 L1096.2,248.2 L1098.2,247.8 L1100.1,247.5 L1102.1,247.1 L1104.1,246.8 L1106.0,246.4 L1108.0,246.1 L1110.0,245.7 L1111.9,245.4 L1113.9,245.0 L1115.9,244.7 L1117.8,244.3 L1119.8,244.0 L1121.8,243.7 L1123.8,243.3 L1125.7,243.0 L1127.7,242.7 L1129.7,242.3 L1131.6,242.0 L1133.6,241.7 L1135.6,241.3 L1137.6,241.0 L1139.5,240.7 L1141.5,240.4 L1143.5,240.1 L1145.5,239.8 L1147.4,239.4 L1149.4,239.1 L1151.4,238.8 L1153.4,238.5 L1155.3,238.2 L1157.3,237.9 L1159.3,237.6 L1161.3,237.3 L1163.2,237.0 L1165.2,236.7 L1167.2,236.4 L1169.2,236.1 L1171.1,235.9 L1173.1,235.6 L1175.1,235.3 L1177.1,235.0 L1179.1,234.7 L1181.0,234.4 L1183.0,234.1 L1185.0,233.9 L1187.0,233.6 L1189.0,233.3 L1190.9,233.1 L1192.9,232.8 L1194.9,232.5 L1196.9,232.2 L1198.9,232.0 L1200.8,231.7 L1202.8,231.5 L1204.8,231.2 L1206.8,230.9 L1208.8,230.7 L1210.8,230.4 L1212.7,230.2 L1214.7,229.9 L1216.7,229.7 L1218.7,229.4 L1220.7,229.2 L1222.7,228.9 L1224.6,228.7 L1226.6,228.5 L1228.6,228.2 L1230.6,228.0 L1232.6,227.7 L1234.6,227.5 L1236.6,227.3 L1238.5,227.0 L1240.5,226.8 L1242.5,226.6 L1244.5,226.4 L1246.5,226.1 L1248.5,225.9 L1250.5,225.7 L1252.5,225.5 L1254.4,225.3 L1256.4,225.0 L1258.4,224.8 L1260.4,224.6 L1262.4,224.4 L1264.4,224.2 L1266.4,224.0 L1268.4,223.8 L1270.4,223.6 L1272.3,223.4 L1274.3,223.2 L1276.3,223.0 L1278.3,222.8 L1280.3,222.6 L1282.3,222.4 L1284.3,222.2 L1286.3,222.0 L1288.3,221.8 L1290.3,221.6 L1292.2,221.4 L1294.2,221.2 L1296.2,221.0 L1298.2,220.9 L1300.2,220.7 L1302.2,220.5 L1304.2,220.3 L1306.2,220.1 L1308.2,220.0 L1310.2,219.8 L1312.2,219.6 L1314.2,219.4 L1316.2,219.3 L1318.2,219.1 L1320.1,218.9 L1322.1,218.8 L1324.1,218.6 L1326.1,218.4 L1328.1,218.3 L1330.1,218.1 L1332.1,217.9 L1334.1,217.8 L1336.1,217.6 L1338.1,217.5 L1340.1,217.3 L1342.1,217.2 L1344.1,217.0 L1346.1,216.9 L1348.1,216.7 L1350.1,216.6 L1352.1,216.4 L1354.1,216.3 L1356.0,216.1 L1358.0,216.0 L1360.0,215.8 L1362.0,215.7 L1364.0,215.6 L1366.0,215.4 L1368.0,215.3 L1370.0,215.2 L1372.0,215.0 L1374.0,214.9 L1376.0,214.8 L1378.0,214.6 L1380.0,214.5 L1382.0,214.4 L1384.0,214.2 L1386.0,214.1 L1388.0,214.0 L1390.0,213.9 L1392.0,213.8 L1394.0,213.6 L1396.0,213.5 L1398.0,213.4 L1400.0,213.3 L1402.0,213.2 L1404.0,213.1 L1406.0,212.9 L1408.0,212.8 L1410.0,212.7 L1412.0,212.6 L1414.0,212.5 L1416.0,212.4 L1418.0,212.3 L1420.0,212.2 L1422.0,212.1 L1424.0,212.0 L1426.0,211.9 L1428.0,211.8 L1430.0,211.7 L1431.9,211.6 L1433.9,211.5 L1435.9,211.4 L1437.9,211.3 L1439.9,211.2 L1441.9,211.1 L1443.9,211.0 L1445.9,210.9 L1447.9,210.8 L1449.9,210.7 L1451.9,210.7 L1453.9,210.6 L1455.9,210.5 L1457.9,210.4 L1459.9,210.3 L1461.9,210.2 L1463.9,210.2 L1465.9,210.1 L1467.9,210.0 L1469.9,209.9 L1471.9,209.8 L1473.9,209.8 L1475.9,209.7 L1477.9,209.6 L1479.9,209.5 L1481.9,209.5 L1483.9,209.4 L1485.9,209.3 L1487.9,209.3 L1489.9,209.2 L1491.9,209.1 L1493.9,209.1 L1495.9,209.0 L1497.9,208.9 L1499.9,208.9 L1501.9,208.8 L1503.9,208.8 L1505.9,208.7 L1507.9,208.6 L1509.9,208.6 L1511.9,208.5 L1513.9,208.5 L1515.9,208.4 L1517.9,208.3 L1519.9,208.3 L1521.9,208.2 L1523.9,208.2 L1525.9,208.1 L1527.9,208.1 L1529.9,208.0 L1531.9,208.0 L1533.9,207.9 L1535.9,207.9 L1537.9,207.8 L1539.9,207.8 L1541.9,207.7 L1543.9,207.7 L1545.9,207.7 L1547.9,207.6 L1549.9,207.6 L1551.9,207.5 L1553.9,207.5 L1555.9,207.5 L1557.9,207.4 L1559.9,207.4 L1561.9,207.3 L1563.9,207.3 L1565.9,207.3 L1567.9,207.2 L1569.9,207.2 L1571.9,207.2 L1573.9,207.1 L1575.9,207.1 L1577.9,207.1 L1579.9,207.0 L1581.9,207.0 L1583.9,207.0 L1585.9,206.9 L1587.9,206.9 L1589.9,206.9 L1591.9,206.9 L1593.9,206.8 L1595.9,206.8 L1597.9,206.8 L1599.9,206.8 L1601.9,206.7 L1603.9,206.7 L1605.9,206.7 L1607.9,206.7 L1609.9,206.7 L1611.9,206.6 L1613.9,206.6 L1615.9,206.6 L1617.9,206.6 L1619.9,206.6 L1621.9,206.5 L1623.9,206.5 L1625.9,206.5 L1627.9,206.5 L1629.9,206.5 L1631.9,206.5 L1633.9,206.4 L1635.9,206.4 L1637.9,206.4 L1639.9,206.4 L1641.9,206.4 L1643.9,206.4 L1645.9,206.4 L1647.9,206.4 L1649.9,206.3 L1651.9,206.3 L1653.9,206.3 L1655.9,206.3 L1657.9,206.3 L1659.9,206.3 L1661.9,206.3 L1663.9,206.3 L1665.9,206.3 L1667.9,206.3 L1669.9,206.3 L1671.9,206.3 L1673.9,206.3 L1675.9,206.3 L1677.9,206.3 L1679.9,206.3 L1681.8,206.3 L1683.8,206.2 L1685.8,206.2 L1687.8,206.2 L1689.8,206.2 L1691.8,206.2 L1693.8,206.2 L1695.8,206.2 L1697.8,206.2 L1699.8,206.2 L1701.8,206.2 L1703.8,206.2 L1705.8,206.2 L1707.8,206.3 L1709.8,206.3 L1711.8,206.3 L1713.8,206.3 L1715.8,206.3 L1717.8,206.3 L1719.8,206.3 L1721.8,206.3 L1723.8,206.3 L1725.8,206.3 L1727.8,206.3 L1729.8,206.3 L1731.8,206.3 L1733.8,206.3 L1735.8,206.3 L1737.8,206.3 L1739.8,206.3 L1741.8,206.3 L1743.8,206.3 L1745.8,206.3 L1747.8,206.4 L1749.8,206.4 L1751.8,206.4 L1753.8,206.4 L1755.8,206.4 L1757.8,206.4 L1759.8,206.4 L1761.8,206.4 L1763.8,206.4 L1765.8,206.4 L1767.8,206.4 L1769.8,206.5 L1771.8,206.5 L1773.8,206.5 L1775.8,206.5 L1777.8,206.5 L1779.8,206.5 L1781.8,206.5 L1783.8,206.5 L1785.8,206.5 L1787.8,206.6 L1789.8,206.6 L1791.8,206.6 L1793.8,206.6 L1795.8,206.6 L1797.8,206.6 L1799.8,206.6 L1801.8,206.6 L1803.8,206.6 L1805.8,206.7 L1807.8,206.7 L1809.8,206.7 L1811.8,206.7 L1813.8,206.7 L1815.8,206.7 L1817.8,206.7 L1819.8,206.7 L1821.8,206.8 L1823.8,206.8 L1825.8,206.8 L1827.8,206.8 L1829.8,206.8 L1831.8,206.8 L1833.8,206.8 L1835.8,206.8 L1837.8,206.9 L1839.8,206.9 L1841.8,206.9 L1843.8,206.9 L1845.8,206.9 L1847.8,206.9 L1849.8,206.9 L1851.8,206.9 L1853.8,206.9 L1855.8,207.0 L1857.8,207.0 L1859.8,207.0 L1861.8,207.0 L1863.8,207.0 L1865.8,207.0 L1867.8,207.0 L1869.8,207.0 L1871.8,207.1 L1873.8,207.1 L1875.8,207.1 L1877.8,207.1 L1879.8,207.1 L1881.8,207.1 L1883.8,207.1 L1885.8,207.1 L1887.8,207.1 L1889.8,207.1 L1891.8,207.2 L1893.8,207.2 L1895.8,207.2 L1897.8,207.2 L1899.8,207.2 L1901.8,207.2 L1903.8,207.2 L1905.8,207.2 L1907.8,207.2 L1909.8,207.2 L1911.8,207.2 L1913.8,207.2 L1915.8,207.3 L1917.8,207.3 L1919.8,207.3 L1921.8,207.3 L1923.8,207.3 L1925.8,207.3 L1927.8,207.3 L1929.8,207.3 L1930.6,207.3"/>
</g>
<g stroke="#000" stroke-width="2" fill="none">
<line x1="223.5" y1="31.0" x2="223.5" y2="1273.7"/>
<line x1="222.5" y1="1257.0" x2="1930.0" y2="1257.0"/>
<line x1="207" y1="32.0" x2="223.5" y2="32.0"/>
<line x1="207" y1="206.0" x2="223.5" y2="206.0"/>
<line x1="207" y1="381.5" x2="223.5" y2="381.5"/>
<line x1="207" y1="555.4" x2="223.5" y2="555.4"/>
<line x1="207" y1="731.5" x2="223.5" y2="731.5"/>
<line x1="207" y1="906.9" x2="223.5" y2="906.9"/>
<line x1="207" y1="1081.5" x2="223.5" y2="1081.5"/>
<line x1="207" y1="1257.0" x2="223.5" y2="1257.0"/>
<line x1="565.4" y1="1257.0" x2="565.4" y2="1273.7"/>
<line x1="905.7" y1="1257.0" x2="905.7" y2="1273.7"/>
<line x1="1247.0" y1="1257.0" x2="1247.0" y2="1273.7"/>
<line x1="1589.0" y1="1257.0" x2="1589.0" y2="1273.7"/>
<line x1="1929.0" y1="1257.0" x2="1929.0" y2="1273.7"/>
</g>
<rect x="262" y="45" width="253.2" height="390" fill="#fff"/>
<rect x="828" y="40.5" width="400" height="157" fill="#fff"/>
<rect x="288.3" y="466" width="95.7" height="610" fill="#fff"/>
<rect x="1625" y="258" width="283.6" height="74" fill="#fff"/>
<rect x="1415.5" y="607.2" width="285" height="74.3" fill="#fff"/>
<rect x="1271" y="957" width="285" height="74.5" fill="#fff"/>
<rect x="940" y="1132.7" width="805" height="74.7" fill="#fff"/>
<rect x="506.9" y="1223" width="116.7" height="68" fill="#fff"/>
<text transform="translate(102.42,49.20) scale(0.9750,1)" font-size="55.40" >1.2</text>
<text transform="translate(147.25,224.33) scale(0.9750,1)" font-size="55.40" >1</text>
<text transform="translate(101.88,399.46) scale(0.9750,1)" font-size="55.40" >0.8</text>
<text transform="translate(101.88,574.59) scale(0.9750,1)" font-size="55.40" >0.6</text>
<text transform="translate(101.34,749.72) scale(0.9750,1)" font-size="55.40" >0.4</text>
<text transform="translate(102.42,924.85) scale(0.9750,1)" font-size="55.40" >0.2</text>
<text transform="translate(146.71,1099.98) scale(0.9750,1)" font-size="55.40" >0</text>
<text xml:space="preserve" transform="translate(81.43,1275.11) scale(0.9968,1)" font-size="55.40" ><tspan x="-0.00" textLength="20.59" lengthAdjust="spacingAndGlyphs">-</tspan><tspan x="21.06" textLength="75.33" lengthAdjust="spacingAndGlyphs">0.2</tspan></text>
<text transform="translate(181.06,1345.40) scale(1.0255,1)" font-size="49.80" stroke="#000" stroke-width="0.5">330</text>
<text transform="translate(522.96,1345.40) scale(1.0255,1)" font-size="49.80" stroke="#000" stroke-width="0.5">360</text>
<text transform="translate(863.26,1345.40) scale(1.0255,1)" font-size="49.80" stroke="#000" stroke-width="0.5">390</text>
<text transform="translate(1205.59,1345.40) scale(1.0127,1)" font-size="49.80" stroke="#000" stroke-width="0.5">420</text>
<text transform="translate(1547.59,1345.40) scale(1.0127,1)" font-size="49.80" stroke="#000" stroke-width="0.5">450</text>
<text transform="translate(1887.59,1345.40) scale(1.0127,1)" font-size="49.80" stroke="#000" stroke-width="0.5">480</text>
<line x1="296" y1="89.4" x2="348.5" y2="89.4" stroke="#000000" stroke-width="5.2" stroke-linecap="round"/>
<line x1="296" y1="165" x2="348.5" y2="165" stroke="#ffc000" stroke-width="5.2" stroke-linecap="round"/>
<line x1="296" y1="240.5" x2="348.5" y2="240.5" stroke="#00b0f0" stroke-width="5.2" stroke-linecap="round"/>
<line x1="296" y1="314.6" x2="348.5" y2="314.6" stroke="#00b050" stroke-width="5.2" stroke-linecap="round"/>
<line x1="296" y1="390.2" x2="348.5" y2="390.2" stroke="#7030a0" stroke-width="5.2" stroke-linecap="round"/>
<text transform="translate(368.86,106.50) scale(1.0051,1)" font-size="47.80" stroke="#000" stroke-width="0.5">D100</text>
<text transform="translate(369.08,181.80) scale(0.9476,1)" font-size="47.80" stroke="#000" stroke-width="0.5">DP15</text>
<text transform="translate(369.03,257.10) scale(0.9587,1)" font-size="47.80" stroke="#000" stroke-width="0.5">DP30</text>
<text transform="translate(369.03,332.40) scale(0.9587,1)" font-size="47.80" stroke="#000" stroke-width="0.5">DP50</text>
<text transform="translate(369.05,407.70) scale(0.9537,1)" font-size="47.80" stroke="#000" stroke-width="0.5">DP65</text>
<text xml:space="preserve" transform="translate(837.63,104.50) scale(0.9927,1)" font-size="47.80" stroke="#000" stroke-width="0.5"><tspan x="0.00" textLength="126.24" lengthAdjust="spacingAndGlyphs">IMEP </tspan><tspan x="129.02" textLength="39.74" lengthAdjust="spacingAndGlyphs">= </tspan><tspan x="167.71" textLength="111.24" lengthAdjust="spacingAndGlyphs">0.75 </tspan><tspan x="279.24" textLength="97.54" lengthAdjust="spacingAndGlyphs">MPa</tspan></text>
<text xml:space="preserve" transform="translate(838.51,171.10) scale(1.0623,1)" font-size="47.80" stroke="#000" stroke-width="0.5"><tspan x="-0.00" textLength="39.71" lengthAdjust="spacingAndGlyphs">n </tspan><tspan x="37.18" textLength="37.13" lengthAdjust="spacingAndGlyphs">= </tspan><tspan x="74.55" textLength="118.95" lengthAdjust="spacingAndGlyphs">1500 </tspan><tspan x="190.77" textLength="85.48" lengthAdjust="spacingAndGlyphs">rpm</tspan></text>
<text transform="translate(1641.61,312.00) scale(0.9892,1)" font-size="53.60" stroke="#000" stroke-width="0.5">90% Q</text>
<text transform="translate(1801.45,324.60) scale(1.1011,1)" font-size="34.30" stroke="#000" stroke-width="0.5">norm</text>
<text transform="translate(1436.28,664.50) scale(0.9881,1)" font-size="53.60" stroke="#000" stroke-width="0.5">50% Q</text>
<text transform="translate(1595.01,677.70) scale(1.1187,1)" font-size="34.30" stroke="#000" stroke-width="0.5">norm</text>
<text transform="translate(1292.25,1012.00) scale(0.9827,1)" font-size="53.60" stroke="#000" stroke-width="0.5">10% Q</text>
<text transform="translate(1450.82,1024.60) scale(1.1133,1)" font-size="34.30" stroke="#000" stroke-width="0.5">norm</text>
<text xml:space="preserve" transform="translate(361.90,1062.85) rotate(-90) scale(0.9705,1)" font-size="47.80" stroke="#000" stroke-width="0.5"><tspan x="-0.00" textLength="79.22" lengthAdjust="spacingAndGlyphs">SoI </tspan><tspan x="83.11" textLength="59.66" lengthAdjust="spacingAndGlyphs">of </tspan><tspan x="143.78" textLength="130.65" lengthAdjust="spacingAndGlyphs">D100 </tspan><tspan x="276.01" textLength="38.63" lengthAdjust="spacingAndGlyphs">= </tspan><tspan x="317.17" textLength="69.45" lengthAdjust="spacingAndGlyphs">20 </tspan><tspan x="387.07" textLength="94.49" lengthAdjust="spacingAndGlyphs">deg </tspan><tspan x="484.13" textLength="119.85" lengthAdjust="spacingAndGlyphs">bTDC</tspan></text>
<text transform="translate(55.50,669.05) rotate(-90) scale(0.9931,1)" font-size="66.00" >Q</text>
<text transform="translate(72.10,617.88) rotate(-90) scale(0.9950,1)" font-size="44.50" >norm</text>
<text transform="translate(55.50,517.47) rotate(-90) scale(0.9545,1)" font-size="66.00" >,</text>
<text transform="translate(55.50,481.80) rotate(-90) scale(1.0761,1)" font-size="66.00" >-</text>
<text xml:space="preserve" transform="translate(784.28,1429.80) scale(0.9930,1)" font-size="59.50" stroke="#000" stroke-width="0.5"><tspan x="-0.00" textLength="159.18" lengthAdjust="spacingAndGlyphs">crank </tspan><tspan x="160.07" textLength="179.20" lengthAdjust="spacingAndGlyphs">angle, </tspan><tspan x="338.77" textLength="101.46" lengthAdjust="spacingAndGlyphs">deg</tspan></text>
<text transform="translate(441.81,1198.60) scale(0.9747,1)" font-size="47.80" stroke="#000" stroke-width="0.5">ID</text>
<text transform="translate(728.86,1193.30) scale(0.8975,1)" font-size="47.80" stroke="#000" stroke-width="0.5">CD</text>
<text transform="translate(520.33,1276.60) scale(0.9100,1)" font-size="47.80" stroke="#000" stroke-width="0.5">TDC</text>
<text xml:space="preserve" transform="translate(955.71,1195.80) scale(0.9993,1)" font-size="47.80" stroke="#000" stroke-width="0.5"><tspan x="-0.00" textLength="90.83" lengthAdjust="spacingAndGlyphs">for  </tspan><tspan x="87.84" textLength="145.74" lengthAdjust="spacingAndGlyphs">DP65: </tspan><tspan x="232.81" textLength="58.84" lengthAdjust="spacingAndGlyphs">ID </tspan><tspan x="294.56" textLength="38.59" lengthAdjust="spacingAndGlyphs">= </tspan><tspan x="333.89" textLength="67.65" lengthAdjust="spacingAndGlyphs">23 </tspan><tspan x="401.33" textLength="107.86" lengthAdjust="spacingAndGlyphs">deg, </tspan><tspan x="508.61" textLength="73.80" lengthAdjust="spacingAndGlyphs">CD </tspan><tspan x="585.02" textLength="39.30" lengthAdjust="spacingAndGlyphs">= </tspan><tspan x="624.22" textLength="69.90" lengthAdjust="spacingAndGlyphs">29 </tspan><tspan x="692.24" textLength="80.59" lengthAdjust="spacingAndGlyphs">deg</tspan></text>
<g stroke="#4f81bd" stroke-width="1.5" fill="none">
<line x1="338.4" y1="1109" x2="338.4" y2="1186.6"/>
<line x1="595" y1="993" x2="595" y2="1187.7"/>
<line x1="928.5" y1="294" x2="928.5" y2="1185.6"/>
<line x1="368" y1="1178.1" x2="431.4" y2="1178.1"/>
<line x1="499" y1="1178.1" x2="565" y2="1178.1"/>
<line x1="625" y1="1178.1" x2="707.5" y2="1178.1"/>
<line x1="812.3" y1="1178.1" x2="900" y2="1178.1"/>
</g>
<g fill="#4f81bd">
<polygon points="343.8,1178.1 370.40000000000003,1170.1 370.40000000000003,1186.1"/>
<polygon points="590.6,1178.1 564.0,1170.1 564.0,1186.1"/>
<polygon points="600.3,1178.1 626.9,1170.1 626.9,1186.1"/>
<polygon points="925.5,1178.1 898.9,1170.1 898.9,1186.1"/>
</g>
<path d="M331.5,1258.6 L331.5,1222.3 A5.6,5.6 0 0 1 342.7,1222.3 L342.7,1258.6 Z" fill="#595959"/>
</svg>
</body></html>
